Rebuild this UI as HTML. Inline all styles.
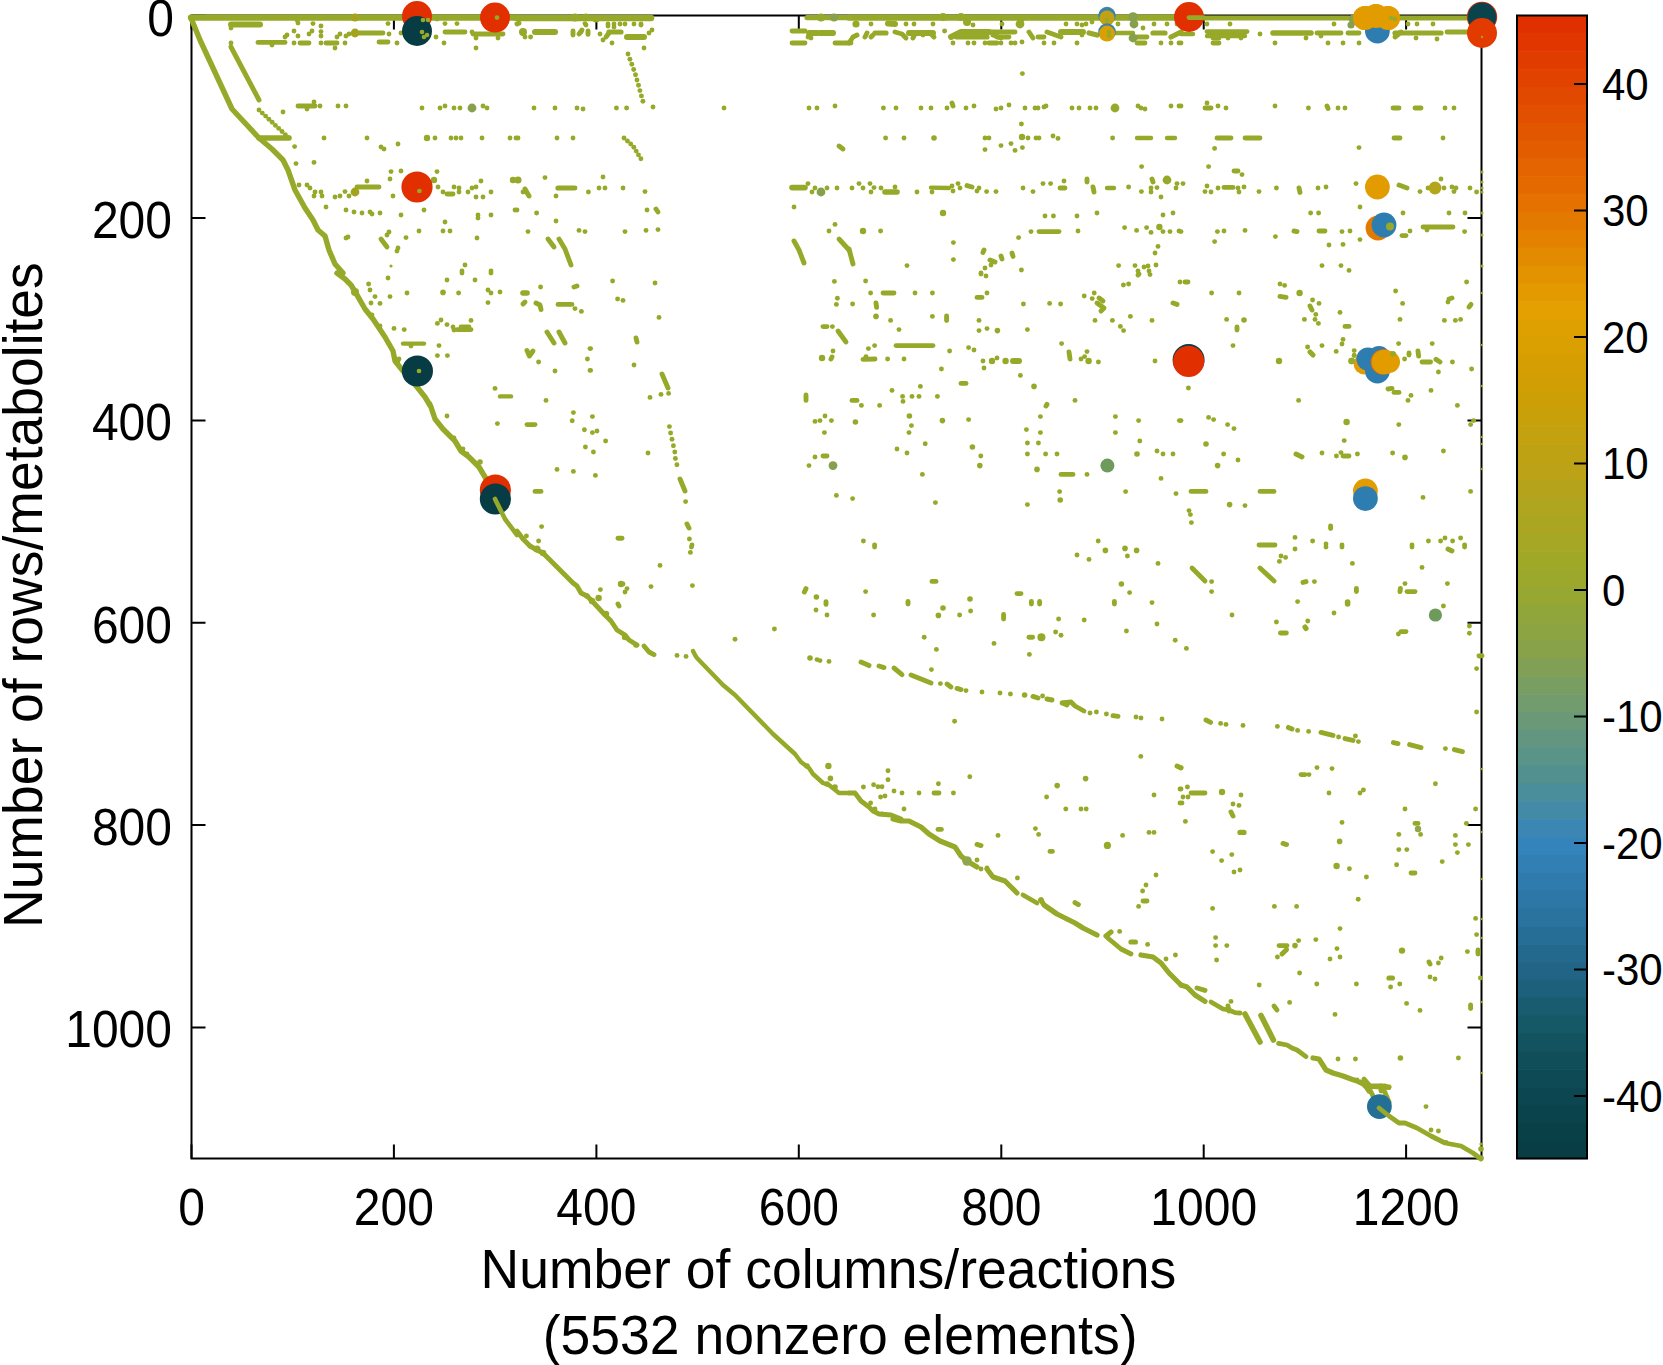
<!DOCTYPE html>
<html><head><meta charset="utf-8"><style>html,body{margin:0;padding:0;background:#fff;overflow:hidden}svg{display:block}</style></head>
<body><svg width="1663" height="1365" viewBox="0 0 1663 1365"><rect width="100%" height="100%" fill="#fff"/><defs><linearGradient id="cb" x1="0" y1="0" x2="0" y2="1"><stop offset="0.0000" stop-color="#e02d00"/><stop offset="0.0597" stop-color="#e24400"/><stop offset="0.1150" stop-color="#e35c00"/><stop offset="0.1704" stop-color="#e47400"/><stop offset="0.2257" stop-color="#e39300"/><stop offset="0.2588" stop-color="#e3a000"/><stop offset="0.2810" stop-color="#dc9f00"/><stop offset="0.3363" stop-color="#cc9f06"/><stop offset="0.3916" stop-color="#bda216"/><stop offset="0.4469" stop-color="#aaa622"/><stop offset="0.5022" stop-color="#98a92e"/><stop offset="0.5575" stop-color="#87a24c"/><stop offset="0.6128" stop-color="#6c9a76"/><stop offset="0.6681" stop-color="#508f92"/><stop offset="0.7235" stop-color="#3584bc"/><stop offset="0.7788" stop-color="#2b76a4"/><stop offset="0.8341" stop-color="#216586"/><stop offset="0.8894" stop-color="#135662"/><stop offset="0.9447" stop-color="#0c4650"/><stop offset="1.0000" stop-color="#073b41"/></linearGradient></defs><g stroke="#000" stroke-width="2" fill="none"><rect x="191.5" y="15.5" width="1290.0" height="1143.0"/><path d="M191.5 1158.5 v-14 M191.5 15.5 v14"/><path d="M393.9 1158.5 v-14 M393.9 15.5 v14"/><path d="M596.4 1158.5 v-14 M596.4 15.5 v14"/><path d="M798.8 1158.5 v-14 M798.8 15.5 v14"/><path d="M1001.3 1158.5 v-14 M1001.3 15.5 v14"/><path d="M1203.7 1158.5 v-14 M1203.7 15.5 v14"/><path d="M1406.1 1158.5 v-14 M1406.1 15.5 v14"/><path d="M191.5 15.8 h14 M1481.5 15.8 h-14"/><path d="M191.5 218.1 h14 M1481.5 218.1 h-14"/><path d="M191.5 420.4 h14 M1481.5 420.4 h-14"/><path d="M191.5 622.8 h14 M1481.5 622.8 h-14"/><path d="M191.5 825.1 h14 M1481.5 825.1 h-14"/><path d="M191.5 1027.4 h14 M1481.5 1027.4 h-14"/></g><path d="M191.0 17.6 L517.0 17.6" fill="none" stroke="#97a928" stroke-width="6.40" stroke-linecap="round" stroke-linejoin="round"/><path d="M191.0 18.0 L200.0 40.0 L232.0 109.0 L259.0 138.0 L272.0 149.0 L283.0 160.0 L288.0 170.0 L295.0 190.0 L305.0 208.0 L313.0 220.0 L318.0 230.0 L325.0 236.0 L329.0 250.0 L335.0 264.0 L343.0 273.0" fill="none" stroke="#97a928" stroke-width="5.40" stroke-linecap="round" stroke-linejoin="round"/><path d="M231.0 24.4 L260.0 24.4" fill="none" stroke="#97a928" stroke-width="6.00" stroke-linecap="round" stroke-linejoin="round"/><path d="M258.0 42.4 L285.0 42.4" fill="none" stroke="#97a928" stroke-width="4.90" stroke-linecap="round" stroke-linejoin="round"/><path d="M231.0 47.0 L259.0 100.0" fill="none" stroke="#97a928" stroke-width="4.90" stroke-linecap="round" stroke-linejoin="round"/><path d="M259.0 138.0 L289.0 138.0" fill="none" stroke="#97a928" stroke-width="5.60" stroke-linecap="round" stroke-linejoin="round"/><path d="M298.0 106.0 L315.0 106.0" fill="none" stroke="#97a928" stroke-width="4.90" stroke-linecap="round" stroke-linejoin="round"/><path d="M359.0 33.0 L383.0 33.0" fill="none" stroke="#97a928" stroke-width="4.90" stroke-linecap="round" stroke-linejoin="round"/><path d="M445.0 32.0 L465.0 32.0" fill="none" stroke="#97a928" stroke-width="4.90" stroke-linecap="round" stroke-linejoin="round"/><path d="M473.0 34.0 L503.0 34.0" fill="none" stroke="#97a928" stroke-width="4.90" stroke-linecap="round" stroke-linejoin="round"/><path d="M300.0 43.0 L309.0 43.0" fill="none" stroke="#97a928" stroke-width="4.90" stroke-linecap="round" stroke-linejoin="round"/><path d="M326.0 43.0 L337.0 43.0" fill="none" stroke="#97a928" stroke-width="4.90" stroke-linecap="round" stroke-linejoin="round"/><path d="M379.0 42.0 L388.0 42.0" fill="none" stroke="#97a928" stroke-width="4.90" stroke-linecap="round" stroke-linejoin="round"/><path d="M357.0 187.0 L379.0 187.0" fill="none" stroke="#97a928" stroke-width="4.90" stroke-linecap="round" stroke-linejoin="round"/><path d="M447.0 194.0 L453.0 194.0" fill="none" stroke="#97a928" stroke-width="4.90" stroke-linecap="round" stroke-linejoin="round"/><path d="M381.0 239.0 L387.0 247.0" fill="none" stroke="#97a928" stroke-width="4.90" stroke-linecap="round" stroke-linejoin="round"/><path d="M337.0 273.0 L345.0 279.0 L351.0 285.0 L357.0 295.0 L365.0 309.0 L369.0 314.0 L373.0 319.0 L385.0 337.0 L393.0 351.0 L395.0 361.0 L403.0 371.0 L417.0 387.0 L425.0 397.0 L431.0 407.0 L435.0 419.0 L443.0 429.0 L455.0 441.0 L461.0 451.0 L469.0 457.0 L479.0 467.0 L485.0 477.0 L491.0 489.0" fill="none" stroke="#97a928" stroke-width="5.40" stroke-linecap="round" stroke-linejoin="round"/><path d="M457.0 329.6 L471.0 329.6" fill="none" stroke="#97a928" stroke-width="4.80" stroke-linecap="round" stroke-linejoin="round"/><path d="M403.0 343.6 L424.0 343.6" fill="none" stroke="#97a928" stroke-width="4.40" stroke-linecap="round" stroke-linejoin="round"/><path d="M500.0 396.4 L511.0 396.4" fill="none" stroke="#97a928" stroke-width="4.40" stroke-linecap="round" stroke-linejoin="round"/><path d="M461.0 327.0 L469.0 327.0" fill="none" stroke="#97a928" stroke-width="4.90" stroke-linecap="round" stroke-linejoin="round"/><path d="M517.0 18.0 L651.0 18.0" fill="none" stroke="#97a928" stroke-width="6.60" stroke-linecap="round" stroke-linejoin="round"/><path d="M807.0 17.6 L849.0 17.6" fill="none" stroke="#97a928" stroke-width="5.20" stroke-linecap="round" stroke-linejoin="round"/><path d="M535.0 32.0 L555.0 32.0" fill="none" stroke="#97a928" stroke-width="6.00" stroke-linecap="round" stroke-linejoin="round"/><path d="M573.0 31.0 L573.0 35.0" fill="none" stroke="#97a928" stroke-width="4.90" stroke-linecap="round" stroke-linejoin="round"/><path d="M588.0 31.0 L588.0 34.4" fill="none" stroke="#97a928" stroke-width="4.90" stroke-linecap="round" stroke-linejoin="round"/><path d="M609.0 32.0 L621.0 32.0" fill="none" stroke="#97a928" stroke-width="5.20" stroke-linecap="round" stroke-linejoin="round"/><path d="M627.0 37.0 L644.0 37.0" fill="none" stroke="#97a928" stroke-width="6.00" stroke-linecap="round" stroke-linejoin="round"/><path d="M792.0 31.0 L805.0 31.0" fill="none" stroke="#97a928" stroke-width="4.80" stroke-linecap="round" stroke-linejoin="round"/><path d="M792.0 43.0 L805.0 43.0" fill="none" stroke="#97a928" stroke-width="4.80" stroke-linecap="round" stroke-linejoin="round"/><path d="M809.0 33.0 L817.0 33.0" fill="none" stroke="#97a928" stroke-width="6.00" stroke-linecap="round" stroke-linejoin="round"/><path d="M820.0 33.0 L833.0 33.0" fill="none" stroke="#97a928" stroke-width="6.00" stroke-linecap="round" stroke-linejoin="round"/><path d="M835.0 43.0 L849.0 43.0" fill="none" stroke="#97a928" stroke-width="4.90" stroke-linecap="round" stroke-linejoin="round"/><path d="M839.0 146.0 L843.0 149.0" fill="none" stroke="#97a928" stroke-width="4.90" stroke-linecap="round" stroke-linejoin="round"/><path d="M558.0 188.0 L573.0 188.0" fill="none" stroke="#97a928" stroke-width="5.20" stroke-linecap="round" stroke-linejoin="round"/><path d="M792.0 187.6 L805.0 187.6" fill="none" stroke="#97a928" stroke-width="5.60" stroke-linecap="round" stroke-linejoin="round"/><path d="M656.0 209.0 L658.0 212.0" fill="none" stroke="#97a928" stroke-width="4.90" stroke-linecap="round" stroke-linejoin="round"/><path d="M548.0 239.0 L554.0 247.0" fill="none" stroke="#97a928" stroke-width="4.90" stroke-linecap="round" stroke-linejoin="round"/><path d="M559.0 239.0 L565.0 249.0 L571.0 265.0" fill="none" stroke="#97a928" stroke-width="4.90" stroke-linecap="round" stroke-linejoin="round"/><path d="M794.0 241.0 L799.0 250.0 L804.0 263.0" fill="none" stroke="#97a928" stroke-width="4.90" stroke-linecap="round" stroke-linejoin="round"/><path d="M839.0 239.0 L849.0 250.0" fill="none" stroke="#97a928" stroke-width="4.90" stroke-linecap="round" stroke-linejoin="round"/><path d="M525.0 189.0 L529.0 196.0" fill="none" stroke="#97a928" stroke-width="4.90" stroke-linecap="round" stroke-linejoin="round"/><path d="M606.0 37.0 L609.0 33.0" fill="none" stroke="#97a928" stroke-width="4.90" stroke-linecap="round" stroke-linejoin="round"/><path d="M579.0 34.0 L582.0 30.0" fill="none" stroke="#97a928" stroke-width="4.90" stroke-linecap="round" stroke-linejoin="round"/><path d="M517.0 24.0 L519.0 23.0" fill="none" stroke="#97a928" stroke-width="4.90" stroke-linecap="round" stroke-linejoin="round"/><path d="M574.0 287.0 L577.0 286.0" fill="none" stroke="#97a928" stroke-width="4.90" stroke-linecap="round" stroke-linejoin="round"/><path d="M523.0 293.0 L527.0 293.0" fill="none" stroke="#97a928" stroke-width="5.60" stroke-linecap="round" stroke-linejoin="round"/><path d="M523.0 304.0 L525.0 302.0" fill="none" stroke="#97a928" stroke-width="4.90" stroke-linecap="round" stroke-linejoin="round"/><path d="M536.0 303.0 L540.0 305.0 L541.0 309.6" fill="none" stroke="#97a928" stroke-width="4.90" stroke-linecap="round" stroke-linejoin="round"/><path d="M558.0 304.4 L572.0 304.4" fill="none" stroke="#97a928" stroke-width="4.80" stroke-linecap="round" stroke-linejoin="round"/><path d="M823.0 326.6 L827.0 326.6" fill="none" stroke="#97a928" stroke-width="4.90" stroke-linecap="round" stroke-linejoin="round"/><path d="M838.0 331.0 L846.0 342.0" fill="none" stroke="#97a928" stroke-width="4.90" stroke-linecap="round" stroke-linejoin="round"/><path d="M547.0 332.0 L554.0 343.0" fill="none" stroke="#97a928" stroke-width="4.90" stroke-linecap="round" stroke-linejoin="round"/><path d="M559.0 332.0 L565.0 343.0" fill="none" stroke="#97a928" stroke-width="4.90" stroke-linecap="round" stroke-linejoin="round"/><path d="M636.0 338.0 L637.0 342.0" fill="none" stroke="#97a928" stroke-width="4.90" stroke-linecap="round" stroke-linejoin="round"/><path d="M527.0 350.6 L529.4 356.0 L533.0 351.0" fill="none" stroke="#97a928" stroke-width="4.90" stroke-linecap="round" stroke-linejoin="round"/><path d="M832.0 357.0 L831.0 359.0" fill="none" stroke="#97a928" stroke-width="4.90" stroke-linecap="round" stroke-linejoin="round"/><path d="M662.0 374.0 L668.0 388.0" fill="none" stroke="#97a928" stroke-width="4.90" stroke-linecap="round" stroke-linejoin="round"/><path d="M806.0 395.0 L806.0 400.4" fill="none" stroke="#97a928" stroke-width="4.90" stroke-linecap="round" stroke-linejoin="round"/><path d="M527.0 424.6 L535.0 424.6" fill="none" stroke="#97a928" stroke-width="4.90" stroke-linecap="round" stroke-linejoin="round"/><path d="M680.0 479.0 L685.0 491.0" fill="none" stroke="#97a928" stroke-width="4.90" stroke-linecap="round" stroke-linejoin="round"/><path d="M823.0 456.0 L827.0 456.0" fill="none" stroke="#97a928" stroke-width="4.90" stroke-linecap="round" stroke-linejoin="round"/><path d="M535.0 491.4 L541.0 491.4" fill="none" stroke="#97a928" stroke-width="4.90" stroke-linecap="round" stroke-linejoin="round"/><path d="M687.0 524.0 L689.0 528.0" fill="none" stroke="#97a928" stroke-width="4.90" stroke-linecap="round" stroke-linejoin="round"/><path d="M618.0 538.2 L622.0 538.2" fill="none" stroke="#97a928" stroke-width="4.90" stroke-linecap="round" stroke-linejoin="round"/><path d="M517.0 531.0 L523.0 539.0 L530.0 546.0" fill="none" stroke="#97a928" stroke-width="4.90" stroke-linecap="round" stroke-linejoin="round"/><path d="M590.0 348.6 L590.6 348.6" fill="none" stroke="#97a928" stroke-width="4.90" stroke-linecap="round" stroke-linejoin="round"/><path d="M590.0 370.4 L590.6 370.4" fill="none" stroke="#97a928" stroke-width="4.90" stroke-linecap="round" stroke-linejoin="round"/><path d="M530.0 546.0 L537.0 550.0 L543.0 553.0 L557.0 567.0 L573.0 583.0 L577.0 586.0 L581.0 593.0 L587.0 596.0 L593.0 602.0 L605.0 615.0 L611.0 621.0 L617.0 630.0 L625.0 635.0 L629.0 640.0 L637.0 645.0" fill="none" stroke="#97a928" stroke-width="4.90" stroke-linecap="round" stroke-linejoin="round"/><path d="M644.0 646.0 L649.0 652.0 L654.0 654.6" fill="none" stroke="#97a928" stroke-width="4.90" stroke-linecap="round" stroke-linejoin="round"/><path d="M693.0 651.0 L695.0 655.0 L697.0 658.0 L723.0 685.0 L735.0 695.0 L773.0 734.0 L795.0 754.0 L801.0 762.0 L809.0 768.0 L813.0 774.0 L823.0 783.0 L829.0 785.0 L839.0 793.0 L849.0 793.0" fill="none" stroke="#97a928" stroke-width="4.40" stroke-linecap="round" stroke-linejoin="round"/><path d="M619.0 606.0 L618.0 604.0" fill="none" stroke="#97a928" stroke-width="4.90" stroke-linecap="round" stroke-linejoin="round"/><path d="M806.0 588.6 L804.4 592.0" fill="none" stroke="#97a928" stroke-width="4.90" stroke-linecap="round" stroke-linejoin="round"/><path d="M826.0 601.6 L826.0 604.4" fill="none" stroke="#97a928" stroke-width="4.90" stroke-linecap="round" stroke-linejoin="round"/><path d="M621.0 584.0 L623.0 584.0" fill="none" stroke="#97a928" stroke-width="4.90" stroke-linecap="round" stroke-linejoin="round"/><path d="M849.0 17.6 L1181.0 17.6" fill="none" stroke="#97a928" stroke-width="6.40" stroke-linecap="round" stroke-linejoin="round"/><path d="M888.0 23.4 L895.0 24.0" fill="none" stroke="#97a928" stroke-width="6.00" stroke-linecap="round" stroke-linejoin="round"/><path d="M849.0 43.0 L853.0 37.0 L857.0 35.0" fill="none" stroke="#97a928" stroke-width="4.90" stroke-linecap="round" stroke-linejoin="round"/><path d="M867.0 33.0 L865.0 37.0" fill="none" stroke="#97a928" stroke-width="4.90" stroke-linecap="round" stroke-linejoin="round"/><path d="M871.0 37.0 L873.0 35.0" fill="none" stroke="#97a928" stroke-width="4.90" stroke-linecap="round" stroke-linejoin="round"/><path d="M875.0 33.0 L886.0 33.0" fill="none" stroke="#97a928" stroke-width="5.20" stroke-linecap="round" stroke-linejoin="round"/><path d="M895.0 32.0 L902.0 34.0 L906.0 38.0" fill="none" stroke="#97a928" stroke-width="4.90" stroke-linecap="round" stroke-linejoin="round"/><path d="M909.0 33.0 L933.0 33.0" fill="none" stroke="#97a928" stroke-width="6.00" stroke-linecap="round" stroke-linejoin="round"/><path d="M913.0 38.0 L915.0 34.0" fill="none" stroke="#97a928" stroke-width="4.90" stroke-linecap="round" stroke-linejoin="round"/><path d="M934.0 37.0 L931.0 34.0" fill="none" stroke="#97a928" stroke-width="4.90" stroke-linecap="round" stroke-linejoin="round"/><path d="M951.0 37.0 L961.0 32.0 L989.0 32.0" fill="none" stroke="#97a928" stroke-width="6.00" stroke-linecap="round" stroke-linejoin="round"/><path d="M957.0 37.0 L987.0 37.0" fill="none" stroke="#97a928" stroke-width="5.20" stroke-linecap="round" stroke-linejoin="round"/><path d="M991.0 32.0 L1015.0 32.0" fill="none" stroke="#97a928" stroke-width="4.90" stroke-linecap="round" stroke-linejoin="round"/><path d="M997.0 37.0 L1009.0 37.0" fill="none" stroke="#97a928" stroke-width="4.90" stroke-linecap="round" stroke-linejoin="round"/><path d="M993.0 35.0 L1001.0 38.0" fill="none" stroke="#97a928" stroke-width="4.90" stroke-linecap="round" stroke-linejoin="round"/><path d="M1029.0 32.0 L1033.0 38.0" fill="none" stroke="#97a928" stroke-width="4.90" stroke-linecap="round" stroke-linejoin="round"/><path d="M1038.0 37.0 L1044.0 37.0" fill="none" stroke="#97a928" stroke-width="4.90" stroke-linecap="round" stroke-linejoin="round"/><path d="M1047.0 32.0 L1061.0 37.0" fill="none" stroke="#97a928" stroke-width="4.90" stroke-linecap="round" stroke-linejoin="round"/><path d="M1061.0 32.0 L1083.0 32.0" fill="none" stroke="#97a928" stroke-width="6.00" stroke-linecap="round" stroke-linejoin="round"/><path d="M1089.0 33.0 L1097.0 35.0" fill="none" stroke="#97a928" stroke-width="5.20" stroke-linecap="round" stroke-linejoin="round"/><path d="M1115.0 33.0 L1133.0 33.0" fill="none" stroke="#97a928" stroke-width="4.40" stroke-linecap="round" stroke-linejoin="round"/><path d="M1137.0 37.0 L1147.0 37.0" fill="none" stroke="#97a928" stroke-width="4.80" stroke-linecap="round" stroke-linejoin="round"/><path d="M1153.0 33.0 L1165.0 33.0" fill="none" stroke="#97a928" stroke-width="5.20" stroke-linecap="round" stroke-linejoin="round"/><path d="M1171.0 37.0 L1181.0 32.0" fill="none" stroke="#97a928" stroke-width="5.20" stroke-linecap="round" stroke-linejoin="round"/><path d="M989.0 43.0 L997.0 43.0" fill="none" stroke="#97a928" stroke-width="4.90" stroke-linecap="round" stroke-linejoin="round"/><path d="M1137.0 43.0 L1145.0 43.0" fill="none" stroke="#97a928" stroke-width="4.90" stroke-linecap="round" stroke-linejoin="round"/><path d="M952.0 103.0 L953.0 106.0" fill="none" stroke="#97a928" stroke-width="4.90" stroke-linecap="round" stroke-linejoin="round"/><path d="M1137.0 138.0 L1151.0 138.0" fill="none" stroke="#97a928" stroke-width="4.40" stroke-linecap="round" stroke-linejoin="round"/><path d="M1167.0 138.0 L1175.0 138.0" fill="none" stroke="#97a928" stroke-width="4.40" stroke-linecap="round" stroke-linejoin="round"/><path d="M885.0 192.0 L897.0 192.0" fill="none" stroke="#97a928" stroke-width="5.60" stroke-linecap="round" stroke-linejoin="round"/><path d="M931.0 187.6 L949.0 188.0" fill="none" stroke="#97a928" stroke-width="4.40" stroke-linecap="round" stroke-linejoin="round"/><path d="M967.0 185.6 L972.0 187.0" fill="none" stroke="#97a928" stroke-width="4.90" stroke-linecap="round" stroke-linejoin="round"/><path d="M1060.0 188.0 L1065.0 188.0" fill="none" stroke="#97a928" stroke-width="4.90" stroke-linecap="round" stroke-linejoin="round"/><path d="M1087.0 179.0 L1087.0 182.0" fill="none" stroke="#97a928" stroke-width="4.90" stroke-linecap="round" stroke-linejoin="round"/><path d="M1093.0 187.0 L1094.0 192.0" fill="none" stroke="#97a928" stroke-width="4.90" stroke-linecap="round" stroke-linejoin="round"/><path d="M1107.0 188.0 L1114.0 188.0" fill="none" stroke="#97a928" stroke-width="4.40" stroke-linecap="round" stroke-linejoin="round"/><path d="M1152.0 179.0 L1153.0 182.0" fill="none" stroke="#97a928" stroke-width="4.90" stroke-linecap="round" stroke-linejoin="round"/><path d="M1039.0 231.6 L1059.0 231.6" fill="none" stroke="#97a928" stroke-width="4.80" stroke-linecap="round" stroke-linejoin="round"/><path d="M849.0 249.0 L853.0 264.0" fill="none" stroke="#97a928" stroke-width="4.90" stroke-linecap="round" stroke-linejoin="round"/><path d="M984.0 250.0 L983.0 252.4" fill="none" stroke="#97a928" stroke-width="4.90" stroke-linecap="round" stroke-linejoin="round"/><path d="M1001.0 256.0 L1002.0 259.0" fill="none" stroke="#97a928" stroke-width="4.90" stroke-linecap="round" stroke-linejoin="round"/><path d="M1012.0 253.0 L1013.0 256.4" fill="none" stroke="#97a928" stroke-width="4.90" stroke-linecap="round" stroke-linejoin="round"/><path d="M990.0 260.0 L995.0 262.0" fill="none" stroke="#97a928" stroke-width="4.90" stroke-linecap="round" stroke-linejoin="round"/><path d="M883.0 293.0 L894.0 293.0" fill="none" stroke="#97a928" stroke-width="4.80" stroke-linecap="round" stroke-linejoin="round"/><path d="M977.0 297.4 L982.0 297.4" fill="none" stroke="#97a928" stroke-width="4.90" stroke-linecap="round" stroke-linejoin="round"/><path d="M876.0 303.0 L876.6 307.4" fill="none" stroke="#97a928" stroke-width="4.90" stroke-linecap="round" stroke-linejoin="round"/><path d="M1099.0 298.0 L1103.0 301.0" fill="none" stroke="#97a928" stroke-width="4.90" stroke-linecap="round" stroke-linejoin="round"/><path d="M1097.0 303.0 L1104.0 308.0 L1101.0 311.0" fill="none" stroke="#97a928" stroke-width="4.90" stroke-linecap="round" stroke-linejoin="round"/><path d="M1173.0 303.0 L1177.0 304.4" fill="none" stroke="#97a928" stroke-width="4.90" stroke-linecap="round" stroke-linejoin="round"/><path d="M946.6 316.0 L946.6 320.6" fill="none" stroke="#97a928" stroke-width="4.90" stroke-linecap="round" stroke-linejoin="round"/><path d="M896.0 345.6 L933.0 345.6" fill="none" stroke="#97a928" stroke-width="4.80" stroke-linecap="round" stroke-linejoin="round"/><path d="M1069.0 352.0 L1070.0 359.0" fill="none" stroke="#97a928" stroke-width="4.90" stroke-linecap="round" stroke-linejoin="round"/><path d="M863.0 359.4 L875.0 359.0" fill="none" stroke="#97a928" stroke-width="4.90" stroke-linecap="round" stroke-linejoin="round"/><path d="M1013.0 361.0 L1019.0 361.0" fill="none" stroke="#97a928" stroke-width="6.00" stroke-linecap="round" stroke-linejoin="round"/><path d="M961.0 383.4 L966.0 383.4" fill="none" stroke="#97a928" stroke-width="4.90" stroke-linecap="round" stroke-linejoin="round"/><path d="M852.0 400.4 L857.0 400.4" fill="none" stroke="#97a928" stroke-width="4.90" stroke-linecap="round" stroke-linejoin="round"/><path d="M1047.0 404.4 L1046.0 406.0" fill="none" stroke="#97a928" stroke-width="4.90" stroke-linecap="round" stroke-linejoin="round"/><path d="M1061.0 474.4 L1073.0 474.4" fill="none" stroke="#97a928" stroke-width="4.80" stroke-linecap="round" stroke-linejoin="round"/><path d="M1138.0 275.0 L1139.0 274.0" fill="none" stroke="#97a928" stroke-width="4.90" stroke-linecap="round" stroke-linejoin="round"/><path d="M861.0 662.0 L869.0 665.6" fill="none" stroke="#97a928" stroke-width="4.90" stroke-linecap="round" stroke-linejoin="round"/><path d="M879.0 666.0 L884.0 667.6" fill="none" stroke="#97a928" stroke-width="4.90" stroke-linecap="round" stroke-linejoin="round"/><path d="M894.0 668.0 L902.0 674.6" fill="none" stroke="#97a928" stroke-width="4.90" stroke-linecap="round" stroke-linejoin="round"/><path d="M911.0 675.0 L931.0 683.0" fill="none" stroke="#97a928" stroke-width="4.80" stroke-linecap="round" stroke-linejoin="round"/><path d="M947.0 684.0 L951.0 687.0" fill="none" stroke="#97a928" stroke-width="4.90" stroke-linecap="round" stroke-linejoin="round"/><path d="M957.0 688.4 L961.0 689.6" fill="none" stroke="#97a928" stroke-width="4.90" stroke-linecap="round" stroke-linejoin="round"/><path d="M1033.0 696.4 L1038.0 698.0" fill="none" stroke="#97a928" stroke-width="4.90" stroke-linecap="round" stroke-linejoin="round"/><path d="M1047.0 699.0 L1052.0 700.0" fill="none" stroke="#97a928" stroke-width="4.90" stroke-linecap="round" stroke-linejoin="round"/><path d="M1062.0 703.0 L1071.0 702.0 L1075.0 706.0 L1084.0 711.0" fill="none" stroke="#97a928" stroke-width="4.80" stroke-linecap="round" stroke-linejoin="round"/><path d="M1063.0 703.0 L1067.0 705.0" fill="none" stroke="#97a928" stroke-width="4.90" stroke-linecap="round" stroke-linejoin="round"/><path d="M1113.0 715.6 L1118.0 716.4" fill="none" stroke="#97a928" stroke-width="4.90" stroke-linecap="round" stroke-linejoin="round"/><path d="M932.0 581.4 L936.0 581.4" fill="none" stroke="#97a928" stroke-width="4.90" stroke-linecap="round" stroke-linejoin="round"/><path d="M1017.0 593.6 L1021.0 593.6" fill="none" stroke="#97a928" stroke-width="4.90" stroke-linecap="round" stroke-linejoin="round"/><path d="M908.0 601.4 L908.0 604.0" fill="none" stroke="#97a928" stroke-width="4.90" stroke-linecap="round" stroke-linejoin="round"/><path d="M1031.4 601.4 L1031.4 604.0" fill="none" stroke="#97a928" stroke-width="4.90" stroke-linecap="round" stroke-linejoin="round"/><path d="M1039.6 601.4 L1039.6 604.0" fill="none" stroke="#97a928" stroke-width="4.90" stroke-linecap="round" stroke-linejoin="round"/><path d="M1114.4 601.4 L1114.4 604.0" fill="none" stroke="#97a928" stroke-width="4.90" stroke-linecap="round" stroke-linejoin="round"/><path d="M1003.6 614.4 L1003.6 619.0" fill="none" stroke="#97a928" stroke-width="4.90" stroke-linecap="round" stroke-linejoin="round"/><path d="M1029.0 637.2 L1032.6 637.2" fill="none" stroke="#97a928" stroke-width="4.90" stroke-linecap="round" stroke-linejoin="round"/><path d="M1177.0 766.0 L1181.0 768.0" fill="none" stroke="#97a928" stroke-width="4.90" stroke-linecap="round" stroke-linejoin="round"/><path d="M934.0 793.0 L939.0 793.0" fill="none" stroke="#97a928" stroke-width="4.90" stroke-linecap="round" stroke-linejoin="round"/><path d="M849.0 793.0 L855.0 793.0 L861.0 801.0 L869.0 807.0 L873.0 811.0 L879.0 814.0 L891.0 815.0 L901.0 819.0" fill="none" stroke="#97a928" stroke-width="4.80" stroke-linecap="round" stroke-linejoin="round"/><path d="M893.0 819.0 L901.0 821.0 L909.0 821.0 L921.0 827.0 L929.0 834.0 L940.0 841.0 L945.0 843.0 L955.0 847.0 L961.0 856.0 L967.0 861.0 L977.0 867.0" fill="none" stroke="#97a928" stroke-width="5.20" stroke-linecap="round" stroke-linejoin="round"/><path d="M987.0 869.0 L993.0 877.0 L1005.0 881.0 L1017.0 893.0" fill="none" stroke="#97a928" stroke-width="5.20" stroke-linecap="round" stroke-linejoin="round"/><path d="M1023.0 895.0 L1037.0 903.0" fill="none" stroke="#97a928" stroke-width="4.80" stroke-linecap="round" stroke-linejoin="round"/><path d="M1041.0 900.0 L1044.0 905.0 L1057.0 914.0 L1067.0 919.0 L1075.0 923.0 L1083.0 928.0 L1097.0 935.0" fill="none" stroke="#97a928" stroke-width="5.20" stroke-linecap="round" stroke-linejoin="round"/><path d="M1106.0 936.0 L1111.0 932.0" fill="none" stroke="#97a928" stroke-width="5.20" stroke-linecap="round" stroke-linejoin="round"/><path d="M1107.0 937.0 L1109.0 939.0 L1121.0 949.0 L1131.0 954.0" fill="none" stroke="#97a928" stroke-width="4.80" stroke-linecap="round" stroke-linejoin="round"/><path d="M1141.0 955.0 L1153.0 957.0 L1161.0 963.0 L1169.0 973.0 L1181.0 985.0" fill="none" stroke="#97a928" stroke-width="5.20" stroke-linecap="round" stroke-linejoin="round"/><path d="M938.0 829.4 L941.4 829.4" fill="none" stroke="#97a928" stroke-width="4.90" stroke-linecap="round" stroke-linejoin="round"/><path d="M977.0 844.4 L981.0 845.6" fill="none" stroke="#97a928" stroke-width="4.90" stroke-linecap="round" stroke-linejoin="round"/><path d="M1050.0 851.4 L1052.4 851.4" fill="none" stroke="#97a928" stroke-width="4.90" stroke-linecap="round" stroke-linejoin="round"/><path d="M1143.0 901.0 L1147.0 901.0" fill="none" stroke="#97a928" stroke-width="4.90" stroke-linecap="round" stroke-linejoin="round"/><path d="M1075.0 902.6 L1078.4 904.6" fill="none" stroke="#97a928" stroke-width="4.90" stroke-linecap="round" stroke-linejoin="round"/><path d="M1131.0 942.0 L1135.4 942.0" fill="none" stroke="#97a928" stroke-width="5.20" stroke-linecap="round" stroke-linejoin="round"/><path d="M1189.0 18.0 L1349.0 18.0" fill="none" stroke="#97a928" stroke-width="5.20" stroke-linecap="round" stroke-linejoin="round"/><path d="M1391.0 18.0 L1467.0 18.0" fill="none" stroke="#97a928" stroke-width="5.20" stroke-linecap="round" stroke-linejoin="round"/><path d="M1207.0 31.6 L1247.0 31.6" fill="none" stroke="#97a928" stroke-width="4.80" stroke-linecap="round" stroke-linejoin="round"/><path d="M1207.0 36.0 L1245.0 36.0" fill="none" stroke="#97a928" stroke-width="4.40" stroke-linecap="round" stroke-linejoin="round"/><path d="M1181.0 34.0 L1193.0 34.0" fill="none" stroke="#97a928" stroke-width="4.40" stroke-linecap="round" stroke-linejoin="round"/><path d="M1273.0 33.0 L1311.0 33.0" fill="none" stroke="#97a928" stroke-width="5.60" stroke-linecap="round" stroke-linejoin="round"/><path d="M1317.0 33.0 L1341.0 33.0" fill="none" stroke="#97a928" stroke-width="4.90" stroke-linecap="round" stroke-linejoin="round"/><path d="M1348.0 33.0 L1359.0 33.0" fill="none" stroke="#97a928" stroke-width="4.90" stroke-linecap="round" stroke-linejoin="round"/><path d="M1395.0 33.0 L1441.0 33.0" fill="none" stroke="#97a928" stroke-width="5.20" stroke-linecap="round" stroke-linejoin="round"/><path d="M1395.0 37.0 L1401.0 32.0" fill="none" stroke="#97a928" stroke-width="4.90" stroke-linecap="round" stroke-linejoin="round"/><path d="M1447.0 32.0 L1467.0 32.0" fill="none" stroke="#97a928" stroke-width="4.90" stroke-linecap="round" stroke-linejoin="round"/><path d="M1213.0 43.0 L1219.0 43.0" fill="none" stroke="#97a928" stroke-width="4.90" stroke-linecap="round" stroke-linejoin="round"/><path d="M1213.0 38.0 L1219.0 38.0" fill="none" stroke="#97a928" stroke-width="4.90" stroke-linecap="round" stroke-linejoin="round"/><path d="M1205.0 108.0 L1211.0 108.0" fill="none" stroke="#97a928" stroke-width="4.90" stroke-linecap="round" stroke-linejoin="round"/><path d="M1393.0 108.0 L1399.0 108.0" fill="none" stroke="#97a928" stroke-width="4.90" stroke-linecap="round" stroke-linejoin="round"/><path d="M1415.0 108.0 L1421.0 108.0" fill="none" stroke="#97a928" stroke-width="4.90" stroke-linecap="round" stroke-linejoin="round"/><path d="M1217.0 138.0 L1231.0 138.0" fill="none" stroke="#97a928" stroke-width="4.90" stroke-linecap="round" stroke-linejoin="round"/><path d="M1245.0 138.0 L1260.0 138.0" fill="none" stroke="#97a928" stroke-width="4.80" stroke-linecap="round" stroke-linejoin="round"/><path d="M1394.0 138.0 L1400.0 138.0" fill="none" stroke="#97a928" stroke-width="4.90" stroke-linecap="round" stroke-linejoin="round"/><path d="M1234.0 171.0 L1238.0 171.0" fill="none" stroke="#97a928" stroke-width="4.90" stroke-linecap="round" stroke-linejoin="round"/><path d="M1224.0 187.4 L1233.0 187.4" fill="none" stroke="#97a928" stroke-width="4.90" stroke-linecap="round" stroke-linejoin="round"/><path d="M1299.0 188.0 L1300.0 192.4" fill="none" stroke="#97a928" stroke-width="4.90" stroke-linecap="round" stroke-linejoin="round"/><path d="M1399.0 185.0 L1407.0 188.0" fill="none" stroke="#97a928" stroke-width="4.90" stroke-linecap="round" stroke-linejoin="round"/><path d="M1319.0 231.0 L1325.0 231.0" fill="none" stroke="#97a928" stroke-width="4.90" stroke-linecap="round" stroke-linejoin="round"/><path d="M1423.0 227.0 L1453.0 227.0" fill="none" stroke="#97a928" stroke-width="4.80" stroke-linecap="round" stroke-linejoin="round"/><path d="M1402.0 235.6 L1406.0 235.6" fill="none" stroke="#97a928" stroke-width="4.90" stroke-linecap="round" stroke-linejoin="round"/><path d="M1327.0 106.0 L1328.0 108.4" fill="none" stroke="#97a928" stroke-width="4.90" stroke-linecap="round" stroke-linejoin="round"/><path d="M1294.0 231.0 L1297.0 231.6" fill="none" stroke="#97a928" stroke-width="4.90" stroke-linecap="round" stroke-linejoin="round"/><path d="M1185.0 282.0 L1188.0 282.0" fill="none" stroke="#97a928" stroke-width="4.90" stroke-linecap="round" stroke-linejoin="round"/><path d="M1280.0 296.4 L1286.0 297.4" fill="none" stroke="#97a928" stroke-width="4.90" stroke-linecap="round" stroke-linejoin="round"/><path d="M1310.0 306.0 L1312.0 310.0" fill="none" stroke="#97a928" stroke-width="4.90" stroke-linecap="round" stroke-linejoin="round"/><path d="M1449.0 299.0 L1452.0 298.0" fill="none" stroke="#97a928" stroke-width="4.90" stroke-linecap="round" stroke-linejoin="round"/><path d="M1469.0 307.0 L1471.0 304.4" fill="none" stroke="#97a928" stroke-width="4.90" stroke-linecap="round" stroke-linejoin="round"/><path d="M1237.0 327.0 L1237.0 330.0" fill="none" stroke="#97a928" stroke-width="4.90" stroke-linecap="round" stroke-linejoin="round"/><path d="M1345.0 326.4 L1349.0 326.4" fill="none" stroke="#97a928" stroke-width="4.90" stroke-linecap="round" stroke-linejoin="round"/><path d="M1310.0 352.0 L1313.0 355.0" fill="none" stroke="#97a928" stroke-width="5.20" stroke-linecap="round" stroke-linejoin="round"/><path d="M1409.0 353.0 L1409.0 355.0" fill="none" stroke="#97a928" stroke-width="4.90" stroke-linecap="round" stroke-linejoin="round"/><path d="M1418.0 351.0 L1418.6 356.0" fill="none" stroke="#97a928" stroke-width="4.90" stroke-linecap="round" stroke-linejoin="round"/><path d="M1422.0 362.0 L1430.6 362.0" fill="none" stroke="#97a928" stroke-width="4.80" stroke-linecap="round" stroke-linejoin="round"/><path d="M1436.0 359.4 L1440.0 362.0" fill="none" stroke="#97a928" stroke-width="4.90" stroke-linecap="round" stroke-linejoin="round"/><path d="M1388.0 389.0 L1392.0 388.4" fill="none" stroke="#97a928" stroke-width="4.90" stroke-linecap="round" stroke-linejoin="round"/><path d="M1394.0 392.4 L1399.0 392.4" fill="none" stroke="#97a928" stroke-width="4.90" stroke-linecap="round" stroke-linejoin="round"/><path d="M1296.0 454.0 L1302.0 457.0" fill="none" stroke="#97a928" stroke-width="4.90" stroke-linecap="round" stroke-linejoin="round"/><path d="M1343.0 456.0 L1349.0 456.0" fill="none" stroke="#97a928" stroke-width="4.90" stroke-linecap="round" stroke-linejoin="round"/><path d="M1191.0 491.4 L1206.0 491.4" fill="none" stroke="#97a928" stroke-width="4.80" stroke-linecap="round" stroke-linejoin="round"/><path d="M1260.0 491.4 L1274.0 491.4" fill="none" stroke="#97a928" stroke-width="4.80" stroke-linecap="round" stroke-linejoin="round"/><path d="M1330.6 526.0 L1330.6 528.6" fill="none" stroke="#97a928" stroke-width="4.90" stroke-linecap="round" stroke-linejoin="round"/><path d="M1259.0 545.0 L1275.0 545.0" fill="none" stroke="#97a928" stroke-width="4.90" stroke-linecap="round" stroke-linejoin="round"/><path d="M1192.0 568.0 L1205.0 581.0" fill="none" stroke="#97a928" stroke-width="4.80" stroke-linecap="round" stroke-linejoin="round"/><path d="M1260.0 568.0 L1274.0 581.0" fill="none" stroke="#97a928" stroke-width="4.80" stroke-linecap="round" stroke-linejoin="round"/><path d="M1448.0 549.0 L1452.0 551.0" fill="none" stroke="#97a928" stroke-width="4.90" stroke-linecap="round" stroke-linejoin="round"/><path d="M1303.0 582.4 L1306.0 581.6" fill="none" stroke="#97a928" stroke-width="4.90" stroke-linecap="round" stroke-linejoin="round"/><path d="M1356.4 588.4 L1356.4 591.6" fill="none" stroke="#97a928" stroke-width="4.90" stroke-linecap="round" stroke-linejoin="round"/><path d="M1400.4 588.4 L1400.0 591.6" fill="none" stroke="#97a928" stroke-width="4.90" stroke-linecap="round" stroke-linejoin="round"/><path d="M1407.0 591.6 L1415.0 591.6" fill="none" stroke="#97a928" stroke-width="4.90" stroke-linecap="round" stroke-linejoin="round"/><path d="M1347.6 602.0 L1347.6 604.0" fill="none" stroke="#97a928" stroke-width="5.60" stroke-linecap="round" stroke-linejoin="round"/><path d="M1305.0 627.0 L1306.0 628.4" fill="none" stroke="#97a928" stroke-width="5.20" stroke-linecap="round" stroke-linejoin="round"/><path d="M1280.4 633.0 L1286.4 633.0" fill="none" stroke="#97a928" stroke-width="4.80" stroke-linecap="round" stroke-linejoin="round"/><path d="M1401.0 631.6 L1406.0 631.6" fill="none" stroke="#97a928" stroke-width="4.90" stroke-linecap="round" stroke-linejoin="round"/><path d="M1479.0 656.0 L1482.0 655.6" fill="none" stroke="#97a928" stroke-width="4.90" stroke-linecap="round" stroke-linejoin="round"/><path d="M1206.0 720.0 L1210.6 722.4" fill="none" stroke="#97a928" stroke-width="4.90" stroke-linecap="round" stroke-linejoin="round"/><path d="M1288.4 727.4 L1292.0 729.0" fill="none" stroke="#97a928" stroke-width="4.90" stroke-linecap="round" stroke-linejoin="round"/><path d="M1321.0 732.4 L1333.0 735.4" fill="none" stroke="#97a928" stroke-width="4.90" stroke-linecap="round" stroke-linejoin="round"/><path d="M1345.0 738.6 L1353.0 740.4" fill="none" stroke="#97a928" stroke-width="4.90" stroke-linecap="round" stroke-linejoin="round"/><path d="M1393.4 742.6 L1398.0 743.6" fill="none" stroke="#97a928" stroke-width="4.90" stroke-linecap="round" stroke-linejoin="round"/><path d="M1409.6 744.6 L1421.0 747.6" fill="none" stroke="#97a928" stroke-width="4.90" stroke-linecap="round" stroke-linejoin="round"/><path d="M1454.4 749.6 L1462.4 751.6" fill="none" stroke="#97a928" stroke-width="4.90" stroke-linecap="round" stroke-linejoin="round"/><path d="M1301.0 774.6 L1305.0 774.6" fill="none" stroke="#97a928" stroke-width="4.90" stroke-linecap="round" stroke-linejoin="round"/><path d="M1191.0 793.0 L1205.0 793.0" fill="none" stroke="#97a928" stroke-width="4.80" stroke-linecap="round" stroke-linejoin="round"/><path d="M1231.0 812.0 L1233.0 816.0" fill="none" stroke="#97a928" stroke-width="4.90" stroke-linecap="round" stroke-linejoin="round"/><path d="M1181.0 985.0 L1187.0 987.0 L1195.0 995.0 L1205.0 1001.4" fill="none" stroke="#97a928" stroke-width="5.20" stroke-linecap="round" stroke-linejoin="round"/><path d="M1211.0 1002.0 L1223.0 1009.0 L1229.0 1010.0 L1235.0 1012.6 L1240.0 1013.0" fill="none" stroke="#97a928" stroke-width="4.80" stroke-linecap="round" stroke-linejoin="round"/><path d="M1245.0 1014.0 L1260.0 1042.0" fill="none" stroke="#97a928" stroke-width="5.60" stroke-linecap="round" stroke-linejoin="round"/><path d="M1261.0 1015.4 L1273.4 1040.0" fill="none" stroke="#97a928" stroke-width="5.60" stroke-linecap="round" stroke-linejoin="round"/><path d="M1278.6 1043.4 L1287.0 1045.0 L1292.0 1048.0 L1297.0 1050.0 L1306.0 1056.6" fill="none" stroke="#97a928" stroke-width="4.80" stroke-linecap="round" stroke-linejoin="round"/><path d="M1313.0 1058.0 L1319.0 1059.0 L1326.0 1070.0 L1333.0 1073.0 L1343.0 1076.0 L1351.0 1079.0 L1357.0 1081.0 L1365.0 1085.0 L1369.0 1091.0" fill="none" stroke="#97a928" stroke-width="5.20" stroke-linecap="round" stroke-linejoin="round"/><path d="M1364.0 1079.0 L1370.0 1086.0 L1376.0 1086.0 L1382.0 1086.0 L1389.0 1087.0" fill="none" stroke="#97a928" stroke-width="4.90" stroke-linecap="round" stroke-linejoin="round"/><path d="M1381.0 1086.0 L1381.0 1091.0" fill="none" stroke="#97a928" stroke-width="4.90" stroke-linecap="round" stroke-linejoin="round"/><path d="M1197.0 988.0 L1205.0 990.4" fill="none" stroke="#97a928" stroke-width="4.90" stroke-linecap="round" stroke-linejoin="round"/><path d="M1228.0 1006.0 L1229.0 1011.0" fill="none" stroke="#97a928" stroke-width="4.90" stroke-linecap="round" stroke-linejoin="round"/><path d="M1274.0 1006.0 L1277.0 1010.0" fill="none" stroke="#97a928" stroke-width="4.90" stroke-linecap="round" stroke-linejoin="round"/><path d="M1415.0 823.4 L1418.0 823.4" fill="none" stroke="#97a928" stroke-width="4.90" stroke-linecap="round" stroke-linejoin="round"/><path d="M1240.0 832.4 L1244.0 832.4" fill="none" stroke="#97a928" stroke-width="5.20" stroke-linecap="round" stroke-linejoin="round"/><path d="M1283.0 843.4 L1286.6 844.6" fill="none" stroke="#97a928" stroke-width="4.90" stroke-linecap="round" stroke-linejoin="round"/><path d="M1411.0 873.0 L1415.0 873.0" fill="none" stroke="#97a928" stroke-width="4.80" stroke-linecap="round" stroke-linejoin="round"/><path d="M1279.0 945.6 L1287.0 945.6" fill="none" stroke="#97a928" stroke-width="4.80" stroke-linecap="round" stroke-linejoin="round"/><path d="M1282.0 954.0 L1286.6 949.4" fill="none" stroke="#97a928" stroke-width="4.90" stroke-linecap="round" stroke-linejoin="round"/><path d="M1478.0 950.0 L1478.0 954.0" fill="none" stroke="#97a928" stroke-width="4.90" stroke-linecap="round" stroke-linejoin="round"/><path d="M1429.0 962.0 L1430.0 964.0" fill="none" stroke="#97a928" stroke-width="4.90" stroke-linecap="round" stroke-linejoin="round"/><path d="M1389.0 978.0 L1392.4 978.0" fill="none" stroke="#97a928" stroke-width="5.20" stroke-linecap="round" stroke-linejoin="round"/><path d="M1470.6 1005.0 L1470.6 1008.6" fill="none" stroke="#97a928" stroke-width="4.90" stroke-linecap="round" stroke-linejoin="round"/><path d="M1361.0 1082.0 L1369.0 1088.0 L1374.0 1098.0" fill="none" stroke="#97a928" stroke-width="4.80" stroke-linecap="round" stroke-linejoin="round"/><path d="M1365.0 1086.0 L1389.0 1087.6" fill="none" stroke="#97a928" stroke-width="4.90" stroke-linecap="round" stroke-linejoin="round"/><path d="M1383.0 1088.0 L1389.0 1102.0" fill="none" stroke="#97a928" stroke-width="4.90" stroke-linecap="round" stroke-linejoin="round"/><circle cx="259.0" cy="110.0" r="2.45" fill="#97a928"/><circle cx="262.3" cy="113.1" r="2.45" fill="#97a928"/><circle cx="265.6" cy="116.1" r="2.45" fill="#97a928"/><circle cx="268.9" cy="119.2" r="2.45" fill="#97a928"/><circle cx="272.2" cy="122.3" r="2.45" fill="#97a928"/><circle cx="275.4" cy="125.4" r="2.45" fill="#97a928"/><circle cx="278.7" cy="128.4" r="2.45" fill="#97a928"/><circle cx="282.0" cy="131.5" r="2.45" fill="#97a928"/><circle cx="285.3" cy="134.6" r="2.45" fill="#97a928"/><circle cx="288.6" cy="137.6" r="2.45" fill="#97a928"/><circle cx="298.0" cy="23.0" r="2.45" fill="#97a928"/><circle cx="313.0" cy="23.6" r="2.45" fill="#97a928"/><circle cx="388.0" cy="23.6" r="2.45" fill="#97a928"/><circle cx="445.0" cy="23.6" r="2.45" fill="#97a928"/><circle cx="457.0" cy="23.6" r="2.45" fill="#97a928"/><circle cx="422.0" cy="20.0" r="2.45" fill="#97a928"/><circle cx="427.0" cy="20.0" r="2.45" fill="#97a928"/><circle cx="437.0" cy="19.0" r="2.45" fill="#97a928"/><circle cx="297.0" cy="20.0" r="2.45" fill="#97a928"/><circle cx="321.0" cy="26.0" r="2.45" fill="#97a928"/><circle cx="231.0" cy="28.0" r="2.45" fill="#97a928"/><circle cx="294.0" cy="31.0" r="2.45" fill="#97a928"/><circle cx="287.0" cy="35.0" r="2.45" fill="#97a928"/><circle cx="285.0" cy="37.0" r="2.45" fill="#97a928"/><circle cx="298.0" cy="36.0" r="2.45" fill="#97a928"/><circle cx="309.0" cy="34.0" r="2.45" fill="#97a928"/><circle cx="312.0" cy="31.0" r="2.45" fill="#97a928"/><circle cx="321.0" cy="31.6" r="2.45" fill="#97a928"/><circle cx="321.0" cy="36.0" r="2.45" fill="#97a928"/><circle cx="337.0" cy="37.0" r="2.45" fill="#97a928"/><circle cx="340.0" cy="34.0" r="2.45" fill="#97a928"/><circle cx="346.0" cy="36.0" r="2.45" fill="#97a928"/><circle cx="349.0" cy="34.0" r="2.45" fill="#97a928"/><circle cx="389.0" cy="34.0" r="2.45" fill="#97a928"/><circle cx="401.0" cy="33.0" r="2.45" fill="#97a928"/><circle cx="436.0" cy="37.0" r="2.45" fill="#97a928"/><circle cx="472.0" cy="32.0" r="2.45" fill="#97a928"/><circle cx="476.0" cy="38.0" r="2.45" fill="#97a928"/><circle cx="498.0" cy="38.0" r="2.45" fill="#97a928"/><circle cx="272.0" cy="45.0" r="2.45" fill="#97a928"/><circle cx="294.0" cy="43.0" r="2.45" fill="#97a928"/><circle cx="321.0" cy="43.0" r="2.45" fill="#97a928"/><circle cx="335.0" cy="48.0" r="2.45" fill="#97a928"/><circle cx="345.0" cy="43.0" r="2.45" fill="#97a928"/><circle cx="397.0" cy="43.0" r="2.45" fill="#97a928"/><circle cx="444.0" cy="43.0" r="2.45" fill="#97a928"/><circle cx="476.0" cy="48.0" r="2.45" fill="#97a928"/><circle cx="231.0" cy="43.0" r="2.45" fill="#97a928"/><circle cx="314.0" cy="102.0" r="2.45" fill="#97a928"/><circle cx="307.0" cy="109.0" r="2.45" fill="#97a928"/><circle cx="320.0" cy="106.0" r="2.45" fill="#97a928"/><circle cx="338.0" cy="106.0" r="2.45" fill="#97a928"/><circle cx="346.0" cy="106.0" r="2.45" fill="#97a928"/><circle cx="422.0" cy="108.0" r="2.45" fill="#97a928"/><circle cx="440.0" cy="108.0" r="2.45" fill="#97a928"/><circle cx="445.0" cy="106.0" r="2.45" fill="#97a928"/><circle cx="454.0" cy="108.0" r="2.45" fill="#97a928"/><circle cx="460.0" cy="108.0" r="2.45" fill="#97a928"/><circle cx="483.0" cy="106.0" r="2.45" fill="#97a928"/><circle cx="487.0" cy="108.0" r="2.45" fill="#97a928"/><circle cx="283.0" cy="112.0" r="2.45" fill="#97a928"/><circle cx="324.0" cy="138.0" r="2.45" fill="#97a928"/><circle cx="367.0" cy="138.0" r="2.45" fill="#97a928"/><circle cx="435.0" cy="138.0" r="2.45" fill="#97a928"/><circle cx="451.0" cy="138.0" r="2.45" fill="#97a928"/><circle cx="456.0" cy="138.0" r="2.45" fill="#97a928"/><circle cx="461.0" cy="138.0" r="2.45" fill="#97a928"/><circle cx="482.0" cy="138.0" r="2.45" fill="#97a928"/><circle cx="510.0" cy="138.0" r="2.45" fill="#97a928"/><circle cx="516.0" cy="138.0" r="2.45" fill="#97a928"/><circle cx="294.6" cy="146.6" r="2.45" fill="#97a928"/><circle cx="381.0" cy="147.0" r="2.45" fill="#97a928"/><circle cx="384.0" cy="149.0" r="2.45" fill="#97a928"/><circle cx="398.0" cy="144.0" r="2.45" fill="#97a928"/><circle cx="296.0" cy="163.6" r="2.45" fill="#97a928"/><circle cx="314.0" cy="162.4" r="2.45" fill="#97a928"/><circle cx="391.0" cy="171.6" r="2.45" fill="#97a928"/><circle cx="401.0" cy="171.0" r="2.45" fill="#97a928"/><circle cx="390.0" cy="179.0" r="2.45" fill="#97a928"/><circle cx="437.0" cy="171.6" r="2.45" fill="#97a928"/><circle cx="481.0" cy="181.0" r="2.45" fill="#97a928"/><circle cx="367.0" cy="181.0" r="2.45" fill="#97a928"/><circle cx="299.0" cy="185.0" r="2.45" fill="#97a928"/><circle cx="307.0" cy="185.0" r="2.45" fill="#97a928"/><circle cx="310.0" cy="188.0" r="2.45" fill="#97a928"/><circle cx="315.0" cy="192.0" r="2.45" fill="#97a928"/><circle cx="321.0" cy="192.0" r="2.45" fill="#97a928"/><circle cx="314.0" cy="196.0" r="2.45" fill="#97a928"/><circle cx="322.0" cy="196.0" r="2.45" fill="#97a928"/><circle cx="335.0" cy="197.0" r="2.45" fill="#97a928"/><circle cx="340.0" cy="196.0" r="2.45" fill="#97a928"/><circle cx="345.0" cy="191.6" r="2.45" fill="#97a928"/><circle cx="349.0" cy="196.0" r="2.45" fill="#97a928"/><circle cx="393.0" cy="196.0" r="2.45" fill="#97a928"/><circle cx="438.0" cy="187.0" r="2.45" fill="#97a928"/><circle cx="443.0" cy="192.0" r="2.45" fill="#97a928"/><circle cx="454.0" cy="187.0" r="2.45" fill="#97a928"/><circle cx="459.0" cy="188.0" r="2.45" fill="#97a928"/><circle cx="459.0" cy="192.0" r="2.45" fill="#97a928"/><circle cx="468.0" cy="192.0" r="2.45" fill="#97a928"/><circle cx="472.0" cy="188.0" r="2.45" fill="#97a928"/><circle cx="476.0" cy="187.0" r="2.45" fill="#97a928"/><circle cx="476.0" cy="197.0" r="2.45" fill="#97a928"/><circle cx="483.0" cy="197.0" r="2.45" fill="#97a928"/><circle cx="491.0" cy="192.0" r="2.45" fill="#97a928"/><circle cx="326.0" cy="207.0" r="2.45" fill="#97a928"/><circle cx="346.0" cy="210.0" r="2.45" fill="#97a928"/><circle cx="354.0" cy="212.0" r="2.45" fill="#97a928"/><circle cx="362.0" cy="213.0" r="2.45" fill="#97a928"/><circle cx="370.0" cy="212.0" r="2.45" fill="#97a928"/><circle cx="372.0" cy="214.0" r="2.45" fill="#97a928"/><circle cx="380.0" cy="213.0" r="2.45" fill="#97a928"/><circle cx="401.0" cy="215.0" r="2.45" fill="#97a928"/><circle cx="424.0" cy="210.0" r="2.45" fill="#97a928"/><circle cx="478.0" cy="215.0" r="2.45" fill="#97a928"/><circle cx="478.0" cy="218.0" r="2.45" fill="#97a928"/><circle cx="491.0" cy="215.0" r="2.45" fill="#97a928"/><circle cx="515.0" cy="210.0" r="2.45" fill="#97a928"/><circle cx="445.0" cy="222.0" r="2.45" fill="#97a928"/><circle cx="389.0" cy="232.0" r="2.45" fill="#97a928"/><circle cx="387.0" cy="235.0" r="2.45" fill="#97a928"/><circle cx="419.0" cy="231.0" r="2.45" fill="#97a928"/><circle cx="443.0" cy="231.0" r="2.45" fill="#97a928"/><circle cx="450.0" cy="231.0" r="2.45" fill="#97a928"/><circle cx="348.0" cy="237.0" r="2.45" fill="#97a928"/><circle cx="346.0" cy="238.0" r="2.45" fill="#97a928"/><circle cx="406.0" cy="237.6" r="2.45" fill="#97a928"/><circle cx="477.0" cy="238.0" r="2.45" fill="#97a928"/><circle cx="398.0" cy="248.0" r="2.45" fill="#97a928"/><circle cx="397.0" cy="251.0" r="2.45" fill="#97a928"/><circle cx="391.0" cy="266.0" r="1.60" fill="#97a928"/><circle cx="465.0" cy="265.0" r="2.45" fill="#97a928"/><circle cx="462.0" cy="271.0" r="2.45" fill="#97a928"/><circle cx="491.0" cy="271.0" r="2.45" fill="#97a928"/><circle cx="355.0" cy="17.6" r="4.00" fill="#a3a31e"/><circle cx="355.0" cy="33.0" r="4.40" fill="#a3a31e"/><circle cx="355.0" cy="192.0" r="4.40" fill="#a3a31e"/><circle cx="472.0" cy="108.0" r="4.40" fill="#86a04e"/><circle cx="427.0" cy="138.0" r="3.20" fill="#97a928"/><circle cx="434.0" cy="180.0" r="3.20" fill="#97a928"/><circle cx="513.0" cy="180.0" r="3.20" fill="#97a928"/><circle cx="355.0" cy="292.0" r="4.00" fill="#97a928"/><circle cx="372.0" cy="315.0" r="2.45" fill="#97a928"/><circle cx="380.0" cy="326.0" r="2.45" fill="#97a928"/><circle cx="397.0" cy="361.0" r="3.20" fill="#97a928"/><circle cx="399.0" cy="359.0" r="2.45" fill="#97a928"/><circle cx="430.0" cy="404.0" r="2.45" fill="#97a928"/><circle cx="454.0" cy="438.0" r="2.45" fill="#97a928"/><circle cx="463.0" cy="449.0" r="2.45" fill="#97a928"/><circle cx="467.0" cy="454.0" r="2.45" fill="#97a928"/><circle cx="480.0" cy="462.0" r="2.80" fill="#97a928"/><circle cx="368.6" cy="284.0" r="2.45" fill="#97a928"/><circle cx="388.0" cy="278.0" r="2.45" fill="#97a928"/><circle cx="370.0" cy="290.0" r="2.45" fill="#97a928"/><circle cx="375.0" cy="296.6" r="2.45" fill="#97a928"/><circle cx="390.0" cy="296.6" r="2.45" fill="#97a928"/><circle cx="407.0" cy="293.0" r="2.45" fill="#97a928"/><circle cx="371.0" cy="303.0" r="2.45" fill="#97a928"/><circle cx="380.0" cy="303.4" r="2.45" fill="#97a928"/><circle cx="447.0" cy="280.0" r="2.45" fill="#97a928"/><circle cx="475.0" cy="280.0" r="2.45" fill="#97a928"/><circle cx="443.0" cy="292.4" r="2.80" fill="#97a928"/><circle cx="458.6" cy="293.0" r="2.45" fill="#97a928"/><circle cx="488.0" cy="290.0" r="2.45" fill="#97a928"/><circle cx="491.0" cy="293.0" r="2.45" fill="#97a928"/><circle cx="500.0" cy="292.0" r="2.45" fill="#97a928"/><circle cx="488.0" cy="302.6" r="2.45" fill="#97a928"/><circle cx="441.0" cy="320.0" r="2.45" fill="#97a928"/><circle cx="437.4" cy="323.4" r="2.45" fill="#97a928"/><circle cx="447.0" cy="324.6" r="2.45" fill="#97a928"/><circle cx="453.0" cy="327.0" r="2.45" fill="#97a928"/><circle cx="454.0" cy="330.0" r="2.45" fill="#97a928"/><circle cx="471.0" cy="320.4" r="2.45" fill="#97a928"/><circle cx="394.0" cy="328.4" r="2.45" fill="#97a928"/><circle cx="404.2" cy="329.6" r="2.45" fill="#97a928"/><circle cx="439.0" cy="345.6" r="2.45" fill="#97a928"/><circle cx="437.4" cy="355.6" r="2.45" fill="#97a928"/><circle cx="447.4" cy="355.6" r="2.45" fill="#97a928"/><circle cx="495.0" cy="388.4" r="2.45" fill="#97a928"/><circle cx="447.0" cy="416.0" r="2.45" fill="#97a928"/><circle cx="497.4" cy="423.6" r="2.45" fill="#97a928"/><circle cx="411.0" cy="346.0" r="2.45" fill="#97a928"/><circle cx="462.0" cy="273.0" r="2.45" fill="#97a928"/><circle cx="491.0" cy="273.0" r="2.45" fill="#97a928"/><circle cx="628.0" cy="54.0" r="2.45" fill="#97a928"/><circle cx="629.9" cy="59.2" r="2.45" fill="#97a928"/><circle cx="631.8" cy="64.3" r="2.45" fill="#97a928"/><circle cx="633.7" cy="69.5" r="2.45" fill="#97a928"/><circle cx="635.5" cy="74.7" r="2.45" fill="#97a928"/><circle cx="637.0" cy="80.0" r="2.45" fill="#97a928"/><circle cx="638.5" cy="85.3" r="2.45" fill="#97a928"/><circle cx="639.9" cy="90.6" r="2.45" fill="#97a928"/><circle cx="641.4" cy="95.9" r="2.45" fill="#97a928"/><circle cx="642.9" cy="101.2" r="2.45" fill="#97a928"/><circle cx="624.0" cy="138.0" r="2.45" fill="#97a928"/><circle cx="627.4" cy="141.0" r="2.45" fill="#97a928"/><circle cx="630.7" cy="144.0" r="2.45" fill="#97a928"/><circle cx="633.8" cy="147.2" r="2.45" fill="#97a928"/><circle cx="636.2" cy="151.1" r="2.45" fill="#97a928"/><circle cx="638.5" cy="154.9" r="2.45" fill="#97a928"/><circle cx="640.9" cy="158.7" r="2.45" fill="#97a928"/><circle cx="575.0" cy="17.6" r="4.00" fill="#97a928"/><circle cx="586.0" cy="17.0" r="3.60" fill="#97a928"/><circle cx="596.0" cy="19.0" r="3.60" fill="#97a928"/><circle cx="821.0" cy="17.6" r="4.00" fill="#97a928"/><circle cx="834.0" cy="17.6" r="4.00" fill="#86a04e"/><circle cx="585.0" cy="23.6" r="2.45" fill="#97a928"/><circle cx="586.0" cy="25.0" r="2.45" fill="#97a928"/><circle cx="608.0" cy="24.0" r="2.45" fill="#97a928"/><circle cx="614.0" cy="24.0" r="2.45" fill="#97a928"/><circle cx="620.0" cy="24.0" r="2.45" fill="#97a928"/><circle cx="625.0" cy="24.0" r="2.45" fill="#97a928"/><circle cx="634.0" cy="24.0" r="2.45" fill="#97a928"/><circle cx="641.0" cy="24.0" r="2.45" fill="#97a928"/><circle cx="614.0" cy="27.0" r="2.45" fill="#97a928"/><circle cx="608.0" cy="26.0" r="2.45" fill="#97a928"/><circle cx="641.0" cy="25.0" r="2.45" fill="#97a928"/><circle cx="523.0" cy="32.0" r="4.00" fill="#97a928"/><circle cx="525.0" cy="37.0" r="2.45" fill="#97a928"/><circle cx="530.6" cy="37.0" r="2.45" fill="#97a928"/><circle cx="581.0" cy="32.0" r="2.45" fill="#97a928"/><circle cx="600.0" cy="34.0" r="2.45" fill="#97a928"/><circle cx="603.0" cy="40.0" r="2.45" fill="#97a928"/><circle cx="612.0" cy="43.0" r="2.45" fill="#97a928"/><circle cx="649.0" cy="33.0" r="2.45" fill="#97a928"/><circle cx="652.0" cy="30.0" r="2.45" fill="#97a928"/><circle cx="644.0" cy="48.0" r="2.45" fill="#97a928"/><circle cx="811.0" cy="38.0" r="2.45" fill="#97a928"/><circle cx="808.0" cy="37.0" r="2.45" fill="#97a928"/><circle cx="534.0" cy="108.0" r="2.45" fill="#97a928"/><circle cx="555.0" cy="108.0" r="2.45" fill="#97a928"/><circle cx="577.0" cy="108.0" r="2.45" fill="#97a928"/><circle cx="583.0" cy="109.0" r="2.45" fill="#97a928"/><circle cx="616.4" cy="108.0" r="2.45" fill="#97a928"/><circle cx="626.6" cy="108.0" r="2.45" fill="#97a928"/><circle cx="653.0" cy="107.0" r="2.45" fill="#97a928"/><circle cx="724.0" cy="108.0" r="2.45" fill="#97a928"/><circle cx="809.0" cy="108.0" r="2.45" fill="#97a928"/><circle cx="817.0" cy="108.0" r="2.45" fill="#97a928"/><circle cx="835.0" cy="106.0" r="2.45" fill="#97a928"/><circle cx="518.0" cy="138.0" r="2.45" fill="#97a928"/><circle cx="557.0" cy="138.0" r="2.45" fill="#97a928"/><circle cx="573.0" cy="138.0" r="2.45" fill="#97a928"/><circle cx="518.0" cy="180.0" r="3.60" fill="#97a928"/><circle cx="545.0" cy="177.6" r="2.45" fill="#97a928"/><circle cx="603.0" cy="177.0" r="2.45" fill="#97a928"/><circle cx="523.0" cy="192.0" r="2.45" fill="#97a928"/><circle cx="526.0" cy="192.0" r="2.45" fill="#97a928"/><circle cx="575.0" cy="188.0" r="2.45" fill="#97a928"/><circle cx="556.0" cy="196.0" r="2.45" fill="#97a928"/><circle cx="588.4" cy="192.0" r="2.45" fill="#97a928"/><circle cx="599.0" cy="188.0" r="2.45" fill="#97a928"/><circle cx="605.0" cy="188.0" r="2.45" fill="#97a928"/><circle cx="623.0" cy="188.0" r="2.45" fill="#97a928"/><circle cx="645.0" cy="191.6" r="2.45" fill="#97a928"/><circle cx="808.0" cy="183.6" r="2.45" fill="#97a928"/><circle cx="812.0" cy="192.0" r="2.45" fill="#97a928"/><circle cx="815.0" cy="188.0" r="2.45" fill="#97a928"/><circle cx="821.0" cy="192.0" r="4.40" fill="#86a04e"/><circle cx="827.0" cy="188.0" r="2.45" fill="#97a928"/><circle cx="837.0" cy="188.0" r="2.45" fill="#97a928"/><circle cx="517.0" cy="210.0" r="2.45" fill="#97a928"/><circle cx="536.6" cy="213.0" r="2.45" fill="#97a928"/><circle cx="647.0" cy="210.0" r="2.45" fill="#97a928"/><circle cx="794.0" cy="207.0" r="2.45" fill="#97a928"/><circle cx="556.0" cy="221.0" r="2.45" fill="#97a928"/><circle cx="528.0" cy="231.6" r="2.45" fill="#97a928"/><circle cx="579.0" cy="230.4" r="2.45" fill="#97a928"/><circle cx="585.0" cy="231.6" r="2.45" fill="#97a928"/><circle cx="625.0" cy="231.6" r="2.45" fill="#97a928"/><circle cx="646.0" cy="230.4" r="2.45" fill="#97a928"/><circle cx="658.0" cy="229.6" r="2.45" fill="#97a928"/><circle cx="835.0" cy="224.4" r="2.45" fill="#97a928"/><circle cx="829.0" cy="231.0" r="2.45" fill="#97a928"/><circle cx="669.4" cy="426.6" r="2.45" fill="#97a928"/><circle cx="670.6" cy="433.0" r="2.45" fill="#97a928"/><circle cx="672.0" cy="439.3" r="2.45" fill="#97a928"/><circle cx="673.4" cy="445.7" r="2.45" fill="#97a928"/><circle cx="674.8" cy="452.0" r="2.45" fill="#97a928"/><circle cx="675.4" cy="458.5" r="2.45" fill="#97a928"/><circle cx="676.9" cy="464.8" r="2.45" fill="#97a928"/><circle cx="540.6" cy="287.0" r="2.45" fill="#97a928"/><circle cx="612.6" cy="281.0" r="2.45" fill="#97a928"/><circle cx="655.0" cy="283.0" r="2.45" fill="#97a928"/><circle cx="834.4" cy="281.4" r="2.45" fill="#97a928"/><circle cx="575.0" cy="308.6" r="2.45" fill="#97a928"/><circle cx="581.4" cy="311.4" r="2.45" fill="#97a928"/><circle cx="617.6" cy="299.0" r="2.45" fill="#97a928"/><circle cx="623.0" cy="300.4" r="2.45" fill="#97a928"/><circle cx="659.0" cy="317.4" r="2.45" fill="#97a928"/><circle cx="837.4" cy="298.2" r="2.45" fill="#97a928"/><circle cx="836.4" cy="304.4" r="2.45" fill="#97a928"/><circle cx="832.4" cy="326.6" r="2.45" fill="#97a928"/><circle cx="538.6" cy="362.0" r="2.45" fill="#97a928"/><circle cx="587.4" cy="359.0" r="2.45" fill="#97a928"/><circle cx="555.0" cy="371.0" r="2.45" fill="#97a928"/><circle cx="634.0" cy="365.0" r="2.45" fill="#97a928"/><circle cx="833.0" cy="351.0" r="2.45" fill="#97a928"/><circle cx="822.0" cy="358.0" r="3.20" fill="#97a928"/><circle cx="650.0" cy="397.4" r="2.45" fill="#97a928"/><circle cx="661.0" cy="394.4" r="2.45" fill="#97a928"/><circle cx="668.6" cy="393.4" r="2.45" fill="#97a928"/><circle cx="546.0" cy="400.4" r="2.45" fill="#97a928"/><circle cx="573.4" cy="412.6" r="2.45" fill="#97a928"/><circle cx="592.4" cy="416.6" r="2.45" fill="#97a928"/><circle cx="572.2" cy="420.8" r="2.45" fill="#97a928"/><circle cx="825.0" cy="416.0" r="2.45" fill="#97a928"/><circle cx="815.0" cy="421.4" r="2.45" fill="#97a928"/><circle cx="820.0" cy="420.6" r="2.45" fill="#97a928"/><circle cx="831.4" cy="420.6" r="2.45" fill="#97a928"/><circle cx="685.6" cy="501.6" r="2.45" fill="#97a928"/><circle cx="584.4" cy="429.8" r="2.45" fill="#97a928"/><circle cx="592.4" cy="432.6" r="2.45" fill="#97a928"/><circle cx="597.0" cy="431.0" r="2.45" fill="#97a928"/><circle cx="605.6" cy="441.0" r="2.45" fill="#97a928"/><circle cx="585.4" cy="447.0" r="2.45" fill="#97a928"/><circle cx="593.4" cy="452.0" r="2.45" fill="#97a928"/><circle cx="824.4" cy="432.6" r="2.45" fill="#97a928"/><circle cx="648.0" cy="453.0" r="2.45" fill="#97a928"/><circle cx="815.0" cy="457.0" r="2.45" fill="#97a928"/><circle cx="809.0" cy="465.6" r="2.45" fill="#97a928"/><circle cx="833.0" cy="465.6" r="4.40" fill="#86a04e"/><circle cx="557.0" cy="469.4" r="2.45" fill="#97a928"/><circle cx="573.4" cy="471.4" r="2.45" fill="#97a928"/><circle cx="595.4" cy="475.4" r="2.45" fill="#97a928"/><circle cx="836.4" cy="495.4" r="2.45" fill="#97a928"/><circle cx="541.6" cy="526.6" r="2.45" fill="#97a928"/><circle cx="526.4" cy="536.0" r="2.45" fill="#97a928"/><circle cx="538.6" cy="541.0" r="2.45" fill="#97a928"/><circle cx="689.4" cy="539.0" r="2.45" fill="#97a928"/><circle cx="692.0" cy="545.0" r="2.45" fill="#97a928"/><circle cx="537.0" cy="549.0" r="3.60" fill="#97a928"/><circle cx="543.0" cy="553.0" r="3.20" fill="#97a928"/><circle cx="587.0" cy="596.0" r="2.80" fill="#97a928"/><circle cx="592.0" cy="601.0" r="3.20" fill="#97a928"/><circle cx="606.0" cy="614.0" r="3.20" fill="#97a928"/><circle cx="625.0" cy="637.0" r="3.20" fill="#97a928"/><circle cx="636.0" cy="645.0" r="2.80" fill="#97a928"/><circle cx="807.0" cy="766.0" r="2.80" fill="#97a928"/><circle cx="827.0" cy="784.0" r="2.80" fill="#97a928"/><circle cx="835.0" cy="787.0" r="2.80" fill="#97a928"/><circle cx="677.0" cy="655.4" r="2.45" fill="#97a928"/><circle cx="686.0" cy="656.4" r="2.45" fill="#97a928"/><circle cx="691.4" cy="547.0" r="2.45" fill="#97a928"/><circle cx="690.4" cy="552.4" r="2.45" fill="#97a928"/><circle cx="660.0" cy="565.4" r="2.45" fill="#97a928"/><circle cx="621.0" cy="584.0" r="3.20" fill="#97a928"/><circle cx="627.0" cy="588.6" r="2.45" fill="#97a928"/><circle cx="625.0" cy="592.0" r="2.45" fill="#97a928"/><circle cx="600.4" cy="589.6" r="2.45" fill="#97a928"/><circle cx="598.6" cy="598.0" r="3.20" fill="#97a928"/><circle cx="651.0" cy="586.6" r="2.45" fill="#97a928"/><circle cx="692.4" cy="585.6" r="2.45" fill="#97a928"/><circle cx="816.4" cy="597.0" r="2.80" fill="#97a928"/><circle cx="816.0" cy="610.0" r="2.45" fill="#97a928"/><circle cx="827.0" cy="615.0" r="2.45" fill="#97a928"/><circle cx="774.4" cy="629.0" r="2.45" fill="#97a928"/><circle cx="735.0" cy="639.2" r="2.45" fill="#97a928"/><circle cx="810.0" cy="658.0" r="2.80" fill="#97a928"/><circle cx="817.0" cy="659.6" r="2.45" fill="#97a928"/><circle cx="820.0" cy="660.6" r="2.45" fill="#97a928"/><circle cx="829.0" cy="661.4" r="2.45" fill="#97a928"/><circle cx="828.4" cy="766.0" r="3.20" fill="#97a928"/><circle cx="830.4" cy="778.4" r="2.80" fill="#97a928"/><circle cx="943.0" cy="17.0" r="4.00" fill="#97a928"/><circle cx="961.0" cy="17.0" r="4.00" fill="#97a928"/><circle cx="1021.0" cy="19.0" r="3.60" fill="#97a928"/><circle cx="856.0" cy="24.0" r="3.60" fill="#97a928"/><circle cx="871.0" cy="24.0" r="2.45" fill="#97a928"/><circle cx="906.0" cy="24.0" r="2.45" fill="#97a928"/><circle cx="914.0" cy="24.0" r="2.45" fill="#97a928"/><circle cx="933.0" cy="24.0" r="2.45" fill="#97a928"/><circle cx="967.0" cy="22.0" r="4.00" fill="#97a928"/><circle cx="973.0" cy="25.0" r="2.45" fill="#97a928"/><circle cx="1002.0" cy="24.0" r="2.45" fill="#97a928"/><circle cx="1020.0" cy="24.0" r="4.40" fill="#97a928"/><circle cx="1066.0" cy="24.0" r="2.45" fill="#97a928"/><circle cx="1077.0" cy="24.0" r="2.45" fill="#97a928"/><circle cx="1082.0" cy="25.0" r="2.45" fill="#97a928"/><circle cx="1086.0" cy="24.0" r="2.45" fill="#97a928"/><circle cx="1092.0" cy="22.0" r="2.45" fill="#97a928"/><circle cx="1118.0" cy="24.0" r="2.45" fill="#97a928"/><circle cx="1143.0" cy="28.0" r="2.45" fill="#97a928"/><circle cx="1154.0" cy="24.0" r="2.45" fill="#97a928"/><circle cx="1167.0" cy="24.0" r="2.45" fill="#97a928"/><circle cx="1177.0" cy="24.0" r="2.45" fill="#97a928"/><circle cx="1082.0" cy="35.0" r="2.45" fill="#97a928"/><circle cx="944.6" cy="31.0" r="2.45" fill="#97a928"/><circle cx="923.0" cy="35.0" r="2.45" fill="#97a928"/><circle cx="851.0" cy="43.0" r="2.45" fill="#97a928"/><circle cx="953.0" cy="43.0" r="2.45" fill="#97a928"/><circle cx="968.0" cy="43.0" r="2.45" fill="#97a928"/><circle cx="974.0" cy="43.0" r="2.45" fill="#97a928"/><circle cx="985.0" cy="43.0" r="2.45" fill="#97a928"/><circle cx="1001.0" cy="43.0" r="2.45" fill="#97a928"/><circle cx="1011.0" cy="43.0" r="2.45" fill="#97a928"/><circle cx="1015.0" cy="43.0" r="2.45" fill="#97a928"/><circle cx="1022.0" cy="42.0" r="2.45" fill="#97a928"/><circle cx="1044.0" cy="43.0" r="2.45" fill="#97a928"/><circle cx="1054.0" cy="43.0" r="2.45" fill="#97a928"/><circle cx="1077.0" cy="43.0" r="2.45" fill="#97a928"/><circle cx="1161.0" cy="43.0" r="2.45" fill="#97a928"/><circle cx="1171.0" cy="43.0" r="2.45" fill="#97a928"/><circle cx="1179.0" cy="43.0" r="2.45" fill="#97a928"/><circle cx="1022.4" cy="73.6" r="2.45" fill="#97a928"/><circle cx="883.4" cy="108.0" r="2.45" fill="#97a928"/><circle cx="896.0" cy="108.0" r="2.45" fill="#97a928"/><circle cx="921.0" cy="108.0" r="2.45" fill="#97a928"/><circle cx="931.0" cy="108.0" r="2.45" fill="#97a928"/><circle cx="947.0" cy="108.0" r="2.45" fill="#97a928"/><circle cx="966.0" cy="108.0" r="2.45" fill="#97a928"/><circle cx="974.0" cy="106.0" r="2.45" fill="#97a928"/><circle cx="996.0" cy="109.0" r="2.45" fill="#97a928"/><circle cx="1001.0" cy="108.0" r="2.45" fill="#97a928"/><circle cx="1009.0" cy="105.0" r="2.45" fill="#97a928"/><circle cx="1025.0" cy="108.0" r="2.45" fill="#97a928"/><circle cx="1035.0" cy="108.0" r="2.45" fill="#97a928"/><circle cx="1038.0" cy="108.0" r="2.45" fill="#97a928"/><circle cx="1044.0" cy="107.0" r="2.45" fill="#97a928"/><circle cx="1046.0" cy="106.0" r="2.45" fill="#97a928"/><circle cx="1072.0" cy="108.0" r="2.45" fill="#97a928"/><circle cx="1079.0" cy="108.0" r="2.45" fill="#97a928"/><circle cx="1090.0" cy="108.0" r="2.45" fill="#97a928"/><circle cx="1096.0" cy="108.0" r="2.45" fill="#97a928"/><circle cx="1115.0" cy="108.0" r="4.40" fill="#97a928"/><circle cx="1138.0" cy="106.0" r="2.45" fill="#97a928"/><circle cx="1145.0" cy="109.0" r="2.45" fill="#97a928"/><circle cx="1141.0" cy="108.0" r="2.45" fill="#97a928"/><circle cx="1171.0" cy="106.0" r="2.45" fill="#97a928"/><circle cx="1179.0" cy="106.0" r="2.45" fill="#97a928"/><circle cx="1021.4" cy="124.0" r="2.45" fill="#97a928"/><circle cx="885.6" cy="138.0" r="2.45" fill="#97a928"/><circle cx="904.0" cy="138.0" r="2.45" fill="#97a928"/><circle cx="934.0" cy="138.0" r="2.80" fill="#97a928"/><circle cx="985.0" cy="138.0" r="2.45" fill="#97a928"/><circle cx="989.0" cy="138.0" r="2.45" fill="#97a928"/><circle cx="1022.0" cy="137.0" r="3.20" fill="#97a928"/><circle cx="1028.0" cy="138.0" r="2.45" fill="#97a928"/><circle cx="1036.0" cy="138.0" r="2.45" fill="#97a928"/><circle cx="1039.0" cy="138.0" r="2.45" fill="#97a928"/><circle cx="1053.0" cy="136.0" r="2.45" fill="#97a928"/><circle cx="1058.0" cy="138.4" r="2.45" fill="#97a928"/><circle cx="1112.6" cy="138.0" r="2.45" fill="#97a928"/><circle cx="1001.0" cy="145.6" r="2.45" fill="#97a928"/><circle cx="1011.0" cy="143.6" r="2.45" fill="#97a928"/><circle cx="1015.0" cy="150.4" r="2.45" fill="#97a928"/><circle cx="1022.4" cy="147.6" r="2.45" fill="#97a928"/><circle cx="985.0" cy="149.6" r="2.45" fill="#97a928"/><circle cx="1141.6" cy="166.6" r="2.45" fill="#97a928"/><circle cx="852.0" cy="188.0" r="2.45" fill="#97a928"/><circle cx="859.0" cy="183.6" r="2.45" fill="#97a928"/><circle cx="863.0" cy="188.0" r="2.45" fill="#97a928"/><circle cx="870.0" cy="183.6" r="2.45" fill="#97a928"/><circle cx="871.0" cy="192.0" r="2.45" fill="#97a928"/><circle cx="874.0" cy="187.6" r="2.45" fill="#97a928"/><circle cx="881.0" cy="188.0" r="2.45" fill="#97a928"/><circle cx="895.0" cy="187.0" r="2.45" fill="#97a928"/><circle cx="917.0" cy="192.0" r="2.45" fill="#97a928"/><circle cx="932.0" cy="192.0" r="2.45" fill="#97a928"/><circle cx="952.0" cy="186.0" r="2.45" fill="#97a928"/><circle cx="953.0" cy="191.0" r="2.45" fill="#97a928"/><circle cx="958.0" cy="183.6" r="2.45" fill="#97a928"/><circle cx="960.0" cy="188.0" r="2.45" fill="#97a928"/><circle cx="977.0" cy="191.0" r="2.45" fill="#97a928"/><circle cx="979.0" cy="188.0" r="2.45" fill="#97a928"/><circle cx="986.6" cy="191.6" r="2.45" fill="#97a928"/><circle cx="996.0" cy="191.6" r="2.45" fill="#97a928"/><circle cx="1023.0" cy="188.0" r="2.45" fill="#97a928"/><circle cx="1033.0" cy="191.6" r="2.45" fill="#97a928"/><circle cx="1043.0" cy="183.6" r="2.45" fill="#97a928"/><circle cx="1050.6" cy="183.6" r="2.45" fill="#97a928"/><circle cx="1064.0" cy="181.0" r="2.45" fill="#97a928"/><circle cx="1128.6" cy="187.0" r="2.45" fill="#97a928"/><circle cx="1141.4" cy="191.6" r="2.45" fill="#97a928"/><circle cx="1151.0" cy="188.0" r="2.45" fill="#97a928"/><circle cx="1157.0" cy="187.6" r="2.45" fill="#97a928"/><circle cx="1167.0" cy="180.0" r="4.40" fill="#97a928"/><circle cx="1151.0" cy="192.0" r="2.45" fill="#97a928"/><circle cx="1161.0" cy="197.0" r="2.45" fill="#97a928"/><circle cx="1177.0" cy="183.6" r="2.45" fill="#97a928"/><circle cx="1176.0" cy="188.0" r="2.45" fill="#97a928"/><circle cx="943.0" cy="213.0" r="3.20" fill="#97a928"/><circle cx="1045.0" cy="216.0" r="2.45" fill="#97a928"/><circle cx="1053.4" cy="216.0" r="2.45" fill="#97a928"/><circle cx="1077.0" cy="216.0" r="2.45" fill="#97a928"/><circle cx="1097.0" cy="213.0" r="2.45" fill="#97a928"/><circle cx="1163.0" cy="215.0" r="2.45" fill="#97a928"/><circle cx="1173.0" cy="213.0" r="2.45" fill="#97a928"/><circle cx="863.0" cy="231.0" r="3.20" fill="#97a928"/><circle cx="880.6" cy="231.0" r="2.45" fill="#97a928"/><circle cx="1031.0" cy="231.6" r="2.45" fill="#97a928"/><circle cx="1078.0" cy="231.0" r="2.45" fill="#97a928"/><circle cx="1124.6" cy="227.6" r="2.45" fill="#97a928"/><circle cx="1136.6" cy="230.4" r="2.45" fill="#97a928"/><circle cx="1146.6" cy="227.6" r="2.45" fill="#97a928"/><circle cx="1151.0" cy="232.4" r="2.45" fill="#97a928"/><circle cx="1159.4" cy="227.0" r="3.20" fill="#97a928"/><circle cx="1163.0" cy="231.6" r="2.45" fill="#97a928"/><circle cx="1170.0" cy="231.6" r="2.45" fill="#97a928"/><circle cx="1179.0" cy="231.0" r="2.45" fill="#97a928"/><circle cx="1018.6" cy="237.6" r="2.45" fill="#97a928"/><circle cx="953.4" cy="242.6" r="2.45" fill="#97a928"/><circle cx="953.4" cy="259.6" r="2.45" fill="#97a928"/><circle cx="907.0" cy="265.6" r="2.45" fill="#97a928"/><circle cx="991.0" cy="265.0" r="2.45" fill="#97a928"/><circle cx="985.0" cy="268.0" r="2.45" fill="#97a928"/><circle cx="1021.4" cy="270.0" r="2.45" fill="#97a928"/><circle cx="1158.0" cy="246.4" r="2.45" fill="#97a928"/><circle cx="1155.0" cy="253.0" r="2.45" fill="#97a928"/><circle cx="1118.6" cy="265.6" r="2.45" fill="#97a928"/><circle cx="1135.0" cy="265.6" r="2.45" fill="#97a928"/><circle cx="1144.0" cy="267.0" r="2.45" fill="#97a928"/><circle cx="1148.0" cy="266.0" r="2.45" fill="#97a928"/><circle cx="1156.0" cy="265.0" r="2.45" fill="#97a928"/><circle cx="1138.0" cy="271.0" r="2.45" fill="#97a928"/><circle cx="1149.0" cy="271.0" r="2.45" fill="#97a928"/><circle cx="981.0" cy="273.0" r="2.45" fill="#97a928"/><circle cx="865.6" cy="281.0" r="2.45" fill="#97a928"/><circle cx="981.0" cy="274.0" r="2.45" fill="#97a928"/><circle cx="986.0" cy="276.0" r="2.45" fill="#97a928"/><circle cx="1150.0" cy="274.6" r="2.45" fill="#97a928"/><circle cx="1123.4" cy="285.0" r="2.45" fill="#97a928"/><circle cx="1128.6" cy="284.0" r="2.45" fill="#97a928"/><circle cx="1180.0" cy="282.0" r="2.45" fill="#97a928"/><circle cx="870.6" cy="293.0" r="2.45" fill="#97a928"/><circle cx="915.0" cy="293.0" r="2.45" fill="#97a928"/><circle cx="932.4" cy="293.0" r="2.45" fill="#97a928"/><circle cx="987.0" cy="293.0" r="2.45" fill="#97a928"/><circle cx="852.6" cy="304.0" r="2.45" fill="#97a928"/><circle cx="1023.4" cy="304.0" r="2.45" fill="#97a928"/><circle cx="1049.6" cy="303.4" r="2.45" fill="#97a928"/><circle cx="1060.6" cy="304.0" r="2.45" fill="#97a928"/><circle cx="1084.2" cy="296.0" r="2.45" fill="#97a928"/><circle cx="1094.2" cy="293.0" r="2.45" fill="#97a928"/><circle cx="1092.2" cy="298.6" r="2.45" fill="#97a928"/><circle cx="876.0" cy="316.4" r="2.80" fill="#97a928"/><circle cx="890.6" cy="320.4" r="2.45" fill="#97a928"/><circle cx="932.4" cy="316.4" r="2.45" fill="#97a928"/><circle cx="979.0" cy="320.4" r="2.45" fill="#97a928"/><circle cx="1095.0" cy="320.4" r="2.45" fill="#97a928"/><circle cx="1112.4" cy="320.4" r="2.45" fill="#97a928"/><circle cx="1130.4" cy="316.4" r="2.45" fill="#97a928"/><circle cx="1152.0" cy="320.4" r="2.45" fill="#97a928"/><circle cx="899.0" cy="329.6" r="2.45" fill="#97a928"/><circle cx="979.0" cy="330.6" r="2.45" fill="#97a928"/><circle cx="987.0" cy="328.6" r="2.45" fill="#97a928"/><circle cx="997.4" cy="330.6" r="2.80" fill="#97a928"/><circle cx="1027.4" cy="329.6" r="2.45" fill="#97a928"/><circle cx="1120.4" cy="326.4" r="2.45" fill="#97a928"/><circle cx="1123.6" cy="330.6" r="2.45" fill="#97a928"/><circle cx="868.4" cy="348.6" r="2.45" fill="#97a928"/><circle cx="874.6" cy="345.6" r="2.45" fill="#97a928"/><circle cx="949.6" cy="351.0" r="2.45" fill="#97a928"/><circle cx="968.6" cy="347.6" r="2.45" fill="#97a928"/><circle cx="974.0" cy="350.0" r="2.45" fill="#97a928"/><circle cx="1061.6" cy="343.6" r="2.45" fill="#97a928"/><circle cx="1087.0" cy="351.6" r="2.45" fill="#97a928"/><circle cx="866.0" cy="356.6" r="2.45" fill="#97a928"/><circle cx="887.6" cy="359.0" r="2.45" fill="#97a928"/><circle cx="904.0" cy="359.0" r="2.45" fill="#97a928"/><circle cx="983.0" cy="361.0" r="2.45" fill="#97a928"/><circle cx="992.0" cy="361.0" r="3.20" fill="#97a928"/><circle cx="997.0" cy="358.0" r="2.45" fill="#97a928"/><circle cx="1005.6" cy="361.0" r="3.20" fill="#97a928"/><circle cx="1081.0" cy="359.0" r="2.45" fill="#97a928"/><circle cx="1084.6" cy="356.6" r="2.45" fill="#97a928"/><circle cx="1088.6" cy="361.0" r="3.20" fill="#97a928"/><circle cx="1098.4" cy="362.0" r="2.45" fill="#97a928"/><circle cx="1155.0" cy="361.0" r="2.45" fill="#97a928"/><circle cx="984.0" cy="368.0" r="2.45" fill="#97a928"/><circle cx="941.4" cy="369.0" r="2.45" fill="#97a928"/><circle cx="1020.4" cy="375.4" r="2.45" fill="#97a928"/><circle cx="892.0" cy="390.4" r="2.45" fill="#97a928"/><circle cx="920.4" cy="386.4" r="2.45" fill="#97a928"/><circle cx="1034.0" cy="386.4" r="2.80" fill="#97a928"/><circle cx="902.6" cy="396.4" r="2.45" fill="#97a928"/><circle cx="903.0" cy="401.4" r="2.45" fill="#97a928"/><circle cx="912.0" cy="396.4" r="2.45" fill="#97a928"/><circle cx="919.0" cy="396.4" r="2.45" fill="#97a928"/><circle cx="937.4" cy="396.4" r="2.45" fill="#97a928"/><circle cx="861.4" cy="405.4" r="2.45" fill="#97a928"/><circle cx="879.6" cy="405.4" r="2.45" fill="#97a928"/><circle cx="1075.0" cy="400.4" r="2.45" fill="#97a928"/><circle cx="909.4" cy="416.0" r="2.80" fill="#97a928"/><circle cx="855.4" cy="422.0" r="2.80" fill="#97a928"/><circle cx="942.4" cy="420.6" r="2.80" fill="#97a928"/><circle cx="968.6" cy="419.6" r="2.45" fill="#97a928"/><circle cx="1040.4" cy="416.6" r="2.45" fill="#97a928"/><circle cx="1115.4" cy="416.6" r="2.45" fill="#97a928"/><circle cx="1138.6" cy="420.6" r="2.45" fill="#97a928"/><circle cx="1179.4" cy="420.6" r="2.45" fill="#97a928"/><circle cx="911.4" cy="425.6" r="2.45" fill="#97a928"/><circle cx="909.0" cy="432.6" r="2.45" fill="#97a928"/><circle cx="1026.4" cy="429.6" r="2.45" fill="#97a928"/><circle cx="1040.4" cy="432.6" r="2.45" fill="#97a928"/><circle cx="1115.4" cy="432.6" r="2.45" fill="#97a928"/><circle cx="925.2" cy="443.8" r="2.45" fill="#97a928"/><circle cx="1027.4" cy="443.0" r="2.45" fill="#97a928"/><circle cx="1038.4" cy="443.0" r="2.45" fill="#97a928"/><circle cx="1139.8" cy="441.0" r="2.45" fill="#97a928"/><circle cx="972.4" cy="447.0" r="2.80" fill="#97a928"/><circle cx="897.0" cy="449.0" r="2.45" fill="#97a928"/><circle cx="907.0" cy="453.0" r="2.45" fill="#97a928"/><circle cx="980.8" cy="456.0" r="2.45" fill="#97a928"/><circle cx="1027.4" cy="454.0" r="2.45" fill="#97a928"/><circle cx="1045.6" cy="454.0" r="2.45" fill="#97a928"/><circle cx="1057.0" cy="454.0" r="2.45" fill="#97a928"/><circle cx="1137.0" cy="454.0" r="2.80" fill="#97a928"/><circle cx="1157.0" cy="451.0" r="2.45" fill="#97a928"/><circle cx="1163.0" cy="454.0" r="2.45" fill="#97a928"/><circle cx="1173.0" cy="454.0" r="2.45" fill="#97a928"/><circle cx="979.8" cy="465.6" r="2.80" fill="#97a928"/><circle cx="1037.0" cy="469.4" r="2.80" fill="#97a928"/><circle cx="1087.0" cy="474.4" r="2.45" fill="#97a928"/><circle cx="1161.0" cy="478.4" r="2.45" fill="#97a928"/><circle cx="922.4" cy="474.4" r="2.45" fill="#97a928"/><circle cx="852.6" cy="498.6" r="2.45" fill="#97a928"/><circle cx="935.4" cy="502.6" r="2.45" fill="#97a928"/><circle cx="1027.4" cy="504.6" r="2.45" fill="#97a928"/><circle cx="1059.6" cy="491.6" r="2.45" fill="#97a928"/><circle cx="1060.2" cy="500.0" r="2.80" fill="#97a928"/><circle cx="1125.6" cy="491.6" r="2.45" fill="#97a928"/><circle cx="1176.0" cy="493.6" r="2.45" fill="#97a928"/><circle cx="863.4" cy="541.0" r="2.45" fill="#97a928"/><circle cx="874.6" cy="545.0" r="2.45" fill="#97a928"/><circle cx="1098.2" cy="541.0" r="2.45" fill="#97a928"/><circle cx="940.4" cy="683.6" r="2.45" fill="#97a928"/><circle cx="966.0" cy="690.6" r="2.45" fill="#97a928"/><circle cx="982.0" cy="692.0" r="2.45" fill="#97a928"/><circle cx="1000.0" cy="693.0" r="2.45" fill="#97a928"/><circle cx="1010.4" cy="694.0" r="2.45" fill="#97a928"/><circle cx="1024.6" cy="695.0" r="2.80" fill="#97a928"/><circle cx="1042.6" cy="696.0" r="2.45" fill="#97a928"/><circle cx="1090.0" cy="713.0" r="2.45" fill="#97a928"/><circle cx="1096.4" cy="712.0" r="2.45" fill="#97a928"/><circle cx="1106.4" cy="714.0" r="2.45" fill="#97a928"/><circle cx="1136.0" cy="717.0" r="2.45" fill="#97a928"/><circle cx="1141.0" cy="718.0" r="2.45" fill="#97a928"/><circle cx="1162.0" cy="719.0" r="2.45" fill="#97a928"/><circle cx="874.6" cy="547.0" r="2.45" fill="#97a928"/><circle cx="1077.0" cy="555.0" r="2.45" fill="#97a928"/><circle cx="1089.0" cy="559.4" r="2.45" fill="#97a928"/><circle cx="1105.4" cy="550.4" r="2.80" fill="#97a928"/><circle cx="1125.0" cy="548.4" r="2.80" fill="#97a928"/><circle cx="1127.4" cy="556.0" r="2.45" fill="#97a928"/><circle cx="1136.6" cy="550.4" r="2.80" fill="#97a928"/><circle cx="1158.0" cy="563.4" r="2.45" fill="#97a928"/><circle cx="865.6" cy="591.6" r="2.45" fill="#97a928"/><circle cx="1121.4" cy="584.0" r="2.80" fill="#97a928"/><circle cx="1129.6" cy="592.6" r="2.45" fill="#97a928"/><circle cx="970.0" cy="599.0" r="2.80" fill="#97a928"/><circle cx="943.0" cy="608.0" r="2.80" fill="#97a928"/><circle cx="1152.0" cy="602.6" r="2.45" fill="#97a928"/><circle cx="873.6" cy="615.0" r="2.45" fill="#97a928"/><circle cx="938.4" cy="615.4" r="2.80" fill="#97a928"/><circle cx="959.6" cy="615.0" r="2.45" fill="#97a928"/><circle cx="970.6" cy="611.0" r="2.45" fill="#97a928"/><circle cx="1058.6" cy="619.0" r="2.45" fill="#97a928"/><circle cx="1084.2" cy="620.0" r="2.45" fill="#97a928"/><circle cx="1157.0" cy="624.0" r="2.45" fill="#97a928"/><circle cx="1126.4" cy="631.0" r="2.45" fill="#97a928"/><circle cx="924.2" cy="637.2" r="2.45" fill="#97a928"/><circle cx="1041.4" cy="637.2" r="4.00" fill="#97a928"/><circle cx="1055.6" cy="632.0" r="2.45" fill="#97a928"/><circle cx="1061.0" cy="635.2" r="2.45" fill="#97a928"/><circle cx="994.0" cy="643.4" r="2.45" fill="#97a928"/><circle cx="936.4" cy="649.4" r="2.45" fill="#97a928"/><circle cx="1029.4" cy="654.4" r="2.45" fill="#97a928"/><circle cx="1175.2" cy="640.2" r="2.45" fill="#97a928"/><circle cx="931.4" cy="669.6" r="2.45" fill="#97a928"/><circle cx="954.6" cy="721.2" r="2.45" fill="#97a928"/><circle cx="1140.8" cy="756.4" r="2.45" fill="#97a928"/><circle cx="888.0" cy="770.8" r="2.45" fill="#97a928"/><circle cx="888.0" cy="779.8" r="2.45" fill="#97a928"/><circle cx="969.8" cy="776.8" r="2.45" fill="#97a928"/><circle cx="1085.6" cy="778.6" r="2.80" fill="#97a928"/><circle cx="1057.2" cy="785.6" r="2.80" fill="#97a928"/><circle cx="938.4" cy="783.8" r="2.45" fill="#97a928"/><circle cx="863.4" cy="787.0" r="2.45" fill="#97a928"/><circle cx="873.6" cy="784.8" r="2.45" fill="#97a928"/><circle cx="878.0" cy="786.8" r="2.45" fill="#97a928"/><circle cx="882.0" cy="786.8" r="2.45" fill="#97a928"/><circle cx="894.0" cy="791.0" r="2.45" fill="#97a928"/><circle cx="902.0" cy="793.0" r="2.45" fill="#97a928"/><circle cx="919.0" cy="793.0" r="2.45" fill="#97a928"/><circle cx="953.4" cy="793.0" r="2.45" fill="#97a928"/><circle cx="880.6" cy="797.0" r="2.45" fill="#97a928"/><circle cx="885.0" cy="796.0" r="2.45" fill="#97a928"/><circle cx="1046.6" cy="797.0" r="2.45" fill="#97a928"/><circle cx="1154.0" cy="795.0" r="2.45" fill="#97a928"/><circle cx="1180.0" cy="789.0" r="2.45" fill="#97a928"/><circle cx="1180.0" cy="803.0" r="2.45" fill="#97a928"/><circle cx="904.0" cy="809.0" r="2.45" fill="#97a928"/><circle cx="1065.8" cy="809.0" r="2.45" fill="#97a928"/><circle cx="1081.0" cy="809.0" r="2.45" fill="#97a928"/><circle cx="1086.2" cy="809.0" r="2.45" fill="#97a928"/><circle cx="870.6" cy="803.0" r="2.45" fill="#97a928"/><circle cx="875.0" cy="809.0" r="2.45" fill="#97a928"/><circle cx="882.0" cy="814.0" r="2.45" fill="#97a928"/><circle cx="967.0" cy="861.0" r="4.80" fill="#8fa64a"/><circle cx="977.0" cy="860.0" r="2.45" fill="#97a928"/><circle cx="981.0" cy="869.0" r="2.45" fill="#97a928"/><circle cx="987.0" cy="868.0" r="2.45" fill="#97a928"/><circle cx="1041.0" cy="900.0" r="2.80" fill="#97a928"/><circle cx="998.0" cy="835.4" r="2.45" fill="#97a928"/><circle cx="1035.4" cy="828.6" r="2.45" fill="#97a928"/><circle cx="1038.6" cy="834.4" r="2.45" fill="#97a928"/><circle cx="1107.4" cy="845.4" r="3.60" fill="#97a928"/><circle cx="1122.6" cy="835.4" r="2.45" fill="#97a928"/><circle cx="1149.0" cy="832.4" r="2.45" fill="#97a928"/><circle cx="1154.0" cy="832.4" r="2.45" fill="#97a928"/><circle cx="1017.4" cy="878.0" r="2.45" fill="#97a928"/><circle cx="1156.0" cy="875.0" r="2.45" fill="#97a928"/><circle cx="1146.0" cy="885.0" r="2.45" fill="#97a928"/><circle cx="1142.6" cy="891.0" r="2.45" fill="#97a928"/><circle cx="1138.6" cy="906.4" r="2.45" fill="#97a928"/><circle cx="1119.6" cy="931.4" r="2.45" fill="#97a928"/><circle cx="1147.6" cy="944.4" r="2.45" fill="#97a928"/><circle cx="1166.0" cy="959.0" r="2.45" fill="#97a928"/><circle cx="1175.4" cy="955.0" r="2.45" fill="#97a928"/><circle cx="1207.0" cy="24.0" r="2.45" fill="#97a928"/><circle cx="1230.0" cy="24.0" r="2.45" fill="#97a928"/><circle cx="1334.0" cy="24.0" r="2.45" fill="#97a928"/><circle cx="1353.0" cy="23.0" r="2.45" fill="#97a928"/><circle cx="1408.0" cy="24.0" r="2.45" fill="#97a928"/><circle cx="1417.0" cy="24.0" r="2.45" fill="#97a928"/><circle cx="1433.0" cy="24.0" r="2.45" fill="#97a928"/><circle cx="1260.0" cy="34.0" r="2.45" fill="#97a928"/><circle cx="1321.0" cy="36.0" r="2.45" fill="#97a928"/><circle cx="1306.0" cy="38.0" r="2.45" fill="#97a928"/><circle cx="1228.0" cy="38.0" r="2.45" fill="#97a928"/><circle cx="1241.0" cy="38.0" r="2.45" fill="#97a928"/><circle cx="1416.0" cy="38.0" r="2.45" fill="#97a928"/><circle cx="1437.0" cy="39.0" r="2.45" fill="#97a928"/><circle cx="1181.0" cy="43.0" r="2.45" fill="#97a928"/><circle cx="1275.0" cy="43.0" r="2.45" fill="#97a928"/><circle cx="1328.0" cy="43.0" r="2.45" fill="#97a928"/><circle cx="1343.0" cy="43.0" r="2.45" fill="#97a928"/><circle cx="1359.0" cy="43.0" r="2.45" fill="#97a928"/><circle cx="1181.0" cy="106.0" r="2.45" fill="#97a928"/><circle cx="1207.0" cy="103.0" r="2.45" fill="#97a928"/><circle cx="1218.0" cy="106.0" r="2.45" fill="#97a928"/><circle cx="1226.0" cy="108.0" r="2.45" fill="#97a928"/><circle cx="1275.0" cy="106.0" r="2.45" fill="#97a928"/><circle cx="1308.4" cy="108.0" r="2.45" fill="#97a928"/><circle cx="1338.0" cy="108.0" r="2.45" fill="#97a928"/><circle cx="1345.0" cy="108.0" r="2.45" fill="#97a928"/><circle cx="1445.0" cy="108.0" r="2.45" fill="#97a928"/><circle cx="1454.0" cy="108.0" r="2.45" fill="#97a928"/><circle cx="1443.0" cy="138.0" r="2.45" fill="#97a928"/><circle cx="1214.6" cy="148.4" r="2.45" fill="#97a928"/><circle cx="1359.0" cy="147.6" r="2.45" fill="#97a928"/><circle cx="1208.6" cy="166.6" r="2.45" fill="#97a928"/><circle cx="1242.0" cy="174.6" r="2.45" fill="#97a928"/><circle cx="1183.0" cy="183.6" r="2.45" fill="#97a928"/><circle cx="1207.0" cy="186.0" r="2.45" fill="#97a928"/><circle cx="1205.0" cy="191.6" r="2.45" fill="#97a928"/><circle cx="1211.0" cy="192.0" r="2.45" fill="#97a928"/><circle cx="1218.0" cy="188.0" r="2.45" fill="#97a928"/><circle cx="1238.0" cy="188.0" r="2.45" fill="#97a928"/><circle cx="1239.0" cy="192.0" r="2.45" fill="#97a928"/><circle cx="1244.0" cy="187.0" r="2.45" fill="#97a928"/><circle cx="1259.0" cy="191.6" r="2.45" fill="#97a928"/><circle cx="1276.4" cy="188.0" r="2.45" fill="#97a928"/><circle cx="1318.0" cy="188.0" r="2.45" fill="#97a928"/><circle cx="1326.0" cy="187.0" r="2.45" fill="#97a928"/><circle cx="1356.0" cy="183.6" r="2.45" fill="#97a928"/><circle cx="1420.0" cy="191.6" r="2.45" fill="#97a928"/><circle cx="1428.0" cy="188.0" r="2.45" fill="#97a928"/><circle cx="1441.0" cy="179.0" r="2.45" fill="#97a928"/><circle cx="1444.0" cy="188.0" r="2.45" fill="#97a928"/><circle cx="1452.0" cy="187.0" r="2.45" fill="#97a928"/><circle cx="1454.0" cy="191.6" r="2.45" fill="#97a928"/><circle cx="1456.0" cy="188.0" r="2.45" fill="#97a928"/><circle cx="1470.0" cy="188.0" r="2.45" fill="#97a928"/><circle cx="1476.6" cy="192.0" r="2.45" fill="#97a928"/><circle cx="1360.0" cy="207.0" r="2.45" fill="#97a928"/><circle cx="1310.6" cy="213.0" r="2.45" fill="#97a928"/><circle cx="1318.6" cy="213.0" r="2.45" fill="#97a928"/><circle cx="1403.0" cy="213.0" r="2.45" fill="#97a928"/><circle cx="1449.0" cy="213.0" r="2.45" fill="#97a928"/><circle cx="1465.0" cy="213.0" r="2.45" fill="#97a928"/><circle cx="1181.0" cy="231.6" r="2.45" fill="#97a928"/><circle cx="1217.4" cy="231.6" r="2.45" fill="#97a928"/><circle cx="1224.0" cy="231.0" r="2.45" fill="#97a928"/><circle cx="1245.0" cy="230.4" r="2.45" fill="#97a928"/><circle cx="1342.0" cy="231.6" r="2.45" fill="#97a928"/><circle cx="1350.0" cy="231.0" r="2.45" fill="#97a928"/><circle cx="1410.0" cy="231.0" r="2.45" fill="#97a928"/><circle cx="1427.0" cy="230.0" r="2.45" fill="#97a928"/><circle cx="1464.6" cy="231.6" r="2.45" fill="#97a928"/><circle cx="1214.6" cy="241.6" r="2.45" fill="#97a928"/><circle cx="1275.4" cy="236.6" r="2.45" fill="#97a928"/><circle cx="1360.0" cy="239.6" r="2.45" fill="#97a928"/><circle cx="1329.0" cy="245.0" r="2.45" fill="#97a928"/><circle cx="1343.0" cy="244.4" r="2.45" fill="#97a928"/><circle cx="1322.0" cy="265.6" r="2.45" fill="#97a928"/><circle cx="1341.0" cy="265.6" r="2.45" fill="#97a928"/><circle cx="1349.0" cy="270.4" r="2.45" fill="#97a928"/><circle cx="1482.0" cy="182.0" r="1.60" fill="#97a928"/><circle cx="1482.0" cy="188.0" r="1.60" fill="#97a928"/><circle cx="1482.0" cy="192.0" r="1.60" fill="#97a928"/><circle cx="1482.0" cy="213.0" r="1.60" fill="#97a928"/><circle cx="1482.0" cy="235.0" r="1.60" fill="#97a928"/><circle cx="1482.0" cy="172.0" r="1.60" fill="#97a928"/><circle cx="1482.0" cy="266.0" r="1.60" fill="#97a928"/><circle cx="1353.0" cy="19.0" r="4.40" fill="#86a04e"/><circle cx="1351.0" cy="25.0" r="3.60" fill="#86a04e"/><circle cx="1211.6" cy="293.0" r="2.45" fill="#97a928"/><circle cx="1239.0" cy="293.0" r="2.45" fill="#97a928"/><circle cx="1280.0" cy="284.0" r="2.45" fill="#97a928"/><circle cx="1284.6" cy="285.4" r="2.45" fill="#97a928"/><circle cx="1299.6" cy="293.0" r="3.20" fill="#97a928"/><circle cx="1312.6" cy="300.0" r="2.45" fill="#97a928"/><circle cx="1319.0" cy="303.4" r="2.45" fill="#97a928"/><circle cx="1315.8" cy="314.4" r="2.45" fill="#97a928"/><circle cx="1315.0" cy="319.4" r="2.45" fill="#97a928"/><circle cx="1318.4" cy="323.4" r="2.45" fill="#97a928"/><circle cx="1304.4" cy="319.4" r="2.45" fill="#97a928"/><circle cx="1340.0" cy="312.4" r="2.45" fill="#97a928"/><circle cx="1395.6" cy="291.0" r="2.45" fill="#97a928"/><circle cx="1402.6" cy="303.4" r="2.45" fill="#97a928"/><circle cx="1400.0" cy="319.4" r="2.45" fill="#97a928"/><circle cx="1466.6" cy="282.0" r="2.45" fill="#97a928"/><circle cx="1448.0" cy="302.0" r="2.45" fill="#97a928"/><circle cx="1444.4" cy="320.4" r="2.45" fill="#97a928"/><circle cx="1455.4" cy="320.4" r="2.45" fill="#97a928"/><circle cx="1460.6" cy="319.4" r="2.45" fill="#97a928"/><circle cx="1226.6" cy="319.4" r="2.45" fill="#97a928"/><circle cx="1244.0" cy="320.0" r="2.80" fill="#97a928"/><circle cx="1343.0" cy="339.4" r="2.45" fill="#97a928"/><circle cx="1342.0" cy="344.0" r="2.45" fill="#97a928"/><circle cx="1322.0" cy="345.6" r="2.45" fill="#97a928"/><circle cx="1307.6" cy="347.0" r="2.45" fill="#97a928"/><circle cx="1336.2" cy="351.4" r="2.45" fill="#97a928"/><circle cx="1354.2" cy="350.6" r="2.45" fill="#97a928"/><circle cx="1354.2" cy="355.4" r="2.45" fill="#97a928"/><circle cx="1351.6" cy="361.0" r="3.20" fill="#97a928"/><circle cx="1398.6" cy="343.6" r="2.45" fill="#97a928"/><circle cx="1432.2" cy="343.6" r="2.45" fill="#97a928"/><circle cx="1393.0" cy="354.0" r="2.80" fill="#97a928"/><circle cx="1404.6" cy="359.0" r="2.45" fill="#97a928"/><circle cx="1452.4" cy="362.0" r="2.45" fill="#97a928"/><circle cx="1471.6" cy="369.0" r="2.45" fill="#97a928"/><circle cx="1438.4" cy="372.0" r="2.45" fill="#97a928"/><circle cx="1233.0" cy="345.6" r="2.45" fill="#97a928"/><circle cx="1279.0" cy="361.0" r="3.20" fill="#97a928"/><circle cx="1188.4" cy="388.0" r="2.45" fill="#97a928"/><circle cx="1298.6" cy="400.4" r="2.45" fill="#97a928"/><circle cx="1411.0" cy="395.4" r="2.45" fill="#97a928"/><circle cx="1408.0" cy="400.4" r="2.45" fill="#97a928"/><circle cx="1431.0" cy="390.4" r="2.45" fill="#97a928"/><circle cx="1457.4" cy="405.4" r="2.45" fill="#97a928"/><circle cx="1181.0" cy="420.6" r="2.45" fill="#97a928"/><circle cx="1208.6" cy="417.4" r="2.45" fill="#97a928"/><circle cx="1213.6" cy="419.6" r="2.45" fill="#97a928"/><circle cx="1227.6" cy="424.6" r="2.45" fill="#97a928"/><circle cx="1234.0" cy="428.6" r="2.45" fill="#97a928"/><circle cx="1346.6" cy="422.0" r="3.20" fill="#97a928"/><circle cx="1398.8" cy="424.6" r="2.45" fill="#97a928"/><circle cx="1470.6" cy="424.6" r="2.45" fill="#97a928"/><circle cx="1473.6" cy="420.6" r="2.45" fill="#97a928"/><circle cx="1344.2" cy="440.6" r="2.45" fill="#97a928"/><circle cx="1206.0" cy="444.0" r="2.80" fill="#97a928"/><circle cx="1223.6" cy="454.0" r="2.45" fill="#97a928"/><circle cx="1238.0" cy="460.0" r="2.45" fill="#97a928"/><circle cx="1217.6" cy="465.6" r="2.80" fill="#97a928"/><circle cx="1322.0" cy="453.0" r="2.45" fill="#97a928"/><circle cx="1336.4" cy="456.0" r="2.45" fill="#97a928"/><circle cx="1341.0" cy="452.6" r="2.45" fill="#97a928"/><circle cx="1357.4" cy="454.0" r="2.45" fill="#97a928"/><circle cx="1392.6" cy="453.0" r="2.45" fill="#97a928"/><circle cx="1405.0" cy="457.4" r="2.80" fill="#97a928"/><circle cx="1443.4" cy="451.0" r="2.45" fill="#97a928"/><circle cx="1423.0" cy="497.4" r="2.45" fill="#97a928"/><circle cx="1470.6" cy="491.4" r="2.45" fill="#97a928"/><circle cx="1229.6" cy="504.6" r="2.80" fill="#97a928"/><circle cx="1245.0" cy="505.6" r="2.45" fill="#97a928"/><circle cx="1189.0" cy="510.6" r="2.45" fill="#97a928"/><circle cx="1190.4" cy="514.6" r="2.45" fill="#97a928"/><circle cx="1191.4" cy="522.6" r="2.45" fill="#97a928"/><circle cx="1295.0" cy="537.4" r="2.45" fill="#97a928"/><circle cx="1312.6" cy="541.0" r="2.45" fill="#97a928"/><circle cx="1428.4" cy="541.0" r="2.45" fill="#97a928"/><circle cx="1440.6" cy="541.0" r="2.45" fill="#97a928"/><circle cx="1445.0" cy="538.0" r="2.45" fill="#97a928"/><circle cx="1452.6" cy="541.0" r="2.45" fill="#97a928"/><circle cx="1460.6" cy="538.0" r="2.45" fill="#97a928"/><circle cx="1326.0" cy="544.0" r="2.45" fill="#97a928"/><circle cx="1342.0" cy="545.0" r="2.45" fill="#97a928"/><circle cx="1412.0" cy="545.0" r="2.45" fill="#97a928"/><circle cx="1464.6" cy="545.0" r="2.45" fill="#97a928"/><circle cx="1482.0" cy="293.0" r="1.20" fill="#97a928"/><circle cx="1482.0" cy="345.0" r="1.20" fill="#97a928"/><circle cx="1482.0" cy="386.0" r="1.20" fill="#97a928"/><circle cx="1482.0" cy="437.0" r="1.20" fill="#97a928"/><circle cx="1482.0" cy="444.0" r="1.20" fill="#97a928"/><circle cx="1482.0" cy="469.0" r="1.20" fill="#97a928"/><circle cx="1295.0" cy="549.0" r="2.45" fill="#97a928"/><circle cx="1326.0" cy="547.0" r="2.45" fill="#97a928"/><circle cx="1342.0" cy="547.0" r="2.45" fill="#97a928"/><circle cx="1412.0" cy="547.0" r="2.45" fill="#97a928"/><circle cx="1464.6" cy="547.0" r="2.45" fill="#97a928"/><circle cx="1281.0" cy="556.0" r="2.45" fill="#97a928"/><circle cx="1285.6" cy="557.4" r="2.45" fill="#97a928"/><circle cx="1279.4" cy="561.4" r="2.45" fill="#97a928"/><circle cx="1352.4" cy="563.4" r="2.45" fill="#97a928"/><circle cx="1422.0" cy="567.4" r="2.45" fill="#97a928"/><circle cx="1211.6" cy="581.6" r="2.45" fill="#97a928"/><circle cx="1211.6" cy="591.6" r="2.45" fill="#97a928"/><circle cx="1314.4" cy="581.6" r="2.45" fill="#97a928"/><circle cx="1405.0" cy="583.6" r="2.45" fill="#97a928"/><circle cx="1447.4" cy="583.6" r="2.45" fill="#97a928"/><circle cx="1297.6" cy="601.6" r="2.45" fill="#97a928"/><circle cx="1443.4" cy="606.0" r="2.45" fill="#97a928"/><circle cx="1232.0" cy="615.0" r="2.45" fill="#97a928"/><circle cx="1334.0" cy="613.0" r="2.45" fill="#97a928"/><circle cx="1276.4" cy="622.0" r="2.45" fill="#97a928"/><circle cx="1307.8" cy="621.0" r="2.45" fill="#97a928"/><circle cx="1398.4" cy="634.0" r="2.45" fill="#97a928"/><circle cx="1469.4" cy="626.0" r="2.45" fill="#97a928"/><circle cx="1469.4" cy="633.2" r="2.45" fill="#97a928"/><circle cx="1186.4" cy="648.4" r="2.45" fill="#97a928"/><circle cx="1476.6" cy="668.6" r="2.45" fill="#97a928"/><circle cx="1476.6" cy="712.0" r="2.45" fill="#97a928"/><circle cx="1220.6" cy="723.4" r="2.45" fill="#97a928"/><circle cx="1226.0" cy="724.4" r="2.45" fill="#97a928"/><circle cx="1243.0" cy="725.4" r="2.45" fill="#97a928"/><circle cx="1277.4" cy="726.4" r="2.45" fill="#97a928"/><circle cx="1297.6" cy="730.4" r="2.45" fill="#97a928"/><circle cx="1308.6" cy="731.4" r="2.45" fill="#97a928"/><circle cx="1338.6" cy="737.0" r="2.45" fill="#97a928"/><circle cx="1355.4" cy="736.0" r="2.45" fill="#97a928"/><circle cx="1358.4" cy="741.6" r="2.45" fill="#97a928"/><circle cx="1445.4" cy="748.6" r="2.45" fill="#97a928"/><circle cx="1181.0" cy="767.6" r="2.45" fill="#97a928"/><circle cx="1317.0" cy="767.6" r="2.45" fill="#97a928"/><circle cx="1332.0" cy="768.6" r="2.45" fill="#97a928"/><circle cx="1309.0" cy="774.6" r="2.45" fill="#97a928"/><circle cx="1435.4" cy="783.8" r="2.45" fill="#97a928"/><circle cx="1187.4" cy="787.0" r="2.45" fill="#97a928"/><circle cx="1181.0" cy="789.0" r="2.45" fill="#97a928"/><circle cx="1222.0" cy="792.0" r="3.20" fill="#97a928"/><circle cx="1241.0" cy="795.0" r="2.45" fill="#97a928"/><circle cx="1183.0" cy="797.0" r="2.45" fill="#97a928"/><circle cx="1188.0" cy="797.0" r="2.45" fill="#97a928"/><circle cx="1182.0" cy="803.0" r="2.45" fill="#97a928"/><circle cx="1233.0" cy="804.0" r="2.45" fill="#97a928"/><circle cx="1239.0" cy="805.4" r="2.45" fill="#97a928"/><circle cx="1329.0" cy="793.0" r="2.45" fill="#97a928"/><circle cx="1360.0" cy="793.0" r="2.45" fill="#97a928"/><circle cx="1363.4" cy="790.0" r="2.45" fill="#97a928"/><circle cx="1405.0" cy="809.0" r="2.45" fill="#97a928"/><circle cx="1475.6" cy="809.0" r="2.45" fill="#97a928"/><circle cx="1482.0" cy="769.0" r="1.20" fill="#97a928"/><circle cx="1231.0" cy="1001.4" r="2.45" fill="#97a928"/><circle cx="1289.6" cy="1002.4" r="2.45" fill="#97a928"/><circle cx="1335.0" cy="1014.4" r="2.45" fill="#97a928"/><circle cx="1259.2" cy="985.0" r="2.45" fill="#97a928"/><circle cx="1185.4" cy="821.4" r="2.45" fill="#97a928"/><circle cx="1342.0" cy="822.4" r="2.45" fill="#97a928"/><circle cx="1418.0" cy="829.0" r="3.20" fill="#8fa64a"/><circle cx="1420.6" cy="834.4" r="2.45" fill="#97a928"/><circle cx="1466.4" cy="823.4" r="2.45" fill="#97a928"/><circle cx="1398.8" cy="834.4" r="2.45" fill="#97a928"/><circle cx="1455.4" cy="835.4" r="2.45" fill="#97a928"/><circle cx="1339.6" cy="841.4" r="2.80" fill="#97a928"/><circle cx="1455.4" cy="844.6" r="2.45" fill="#97a928"/><circle cx="1468.4" cy="844.6" r="2.45" fill="#97a928"/><circle cx="1212.6" cy="851.6" r="2.45" fill="#97a928"/><circle cx="1231.8" cy="854.6" r="2.45" fill="#97a928"/><circle cx="1221.6" cy="860.6" r="2.45" fill="#97a928"/><circle cx="1398.8" cy="849.6" r="2.45" fill="#97a928"/><circle cx="1406.8" cy="849.6" r="2.45" fill="#97a928"/><circle cx="1457.4" cy="852.6" r="2.45" fill="#97a928"/><circle cx="1442.2" cy="861.6" r="2.45" fill="#97a928"/><circle cx="1234.0" cy="872.0" r="2.45" fill="#97a928"/><circle cx="1240.0" cy="870.0" r="2.45" fill="#97a928"/><circle cx="1336.6" cy="866.0" r="3.20" fill="#97a928"/><circle cx="1349.4" cy="868.8" r="2.45" fill="#97a928"/><circle cx="1396.6" cy="864.8" r="2.45" fill="#97a928"/><circle cx="1366.4" cy="877.0" r="2.45" fill="#97a928"/><circle cx="1358.2" cy="899.2" r="2.45" fill="#97a928"/><circle cx="1212.6" cy="908.4" r="2.45" fill="#97a928"/><circle cx="1274.4" cy="906.4" r="2.45" fill="#97a928"/><circle cx="1296.6" cy="906.4" r="2.45" fill="#97a928"/><circle cx="1475.6" cy="918.4" r="2.45" fill="#97a928"/><circle cx="1340.0" cy="928.6" r="2.45" fill="#97a928"/><circle cx="1476.6" cy="934.6" r="2.45" fill="#97a928"/><circle cx="1215.6" cy="937.6" r="2.45" fill="#97a928"/><circle cx="1215.6" cy="945.6" r="2.45" fill="#97a928"/><circle cx="1226.8" cy="945.6" r="2.45" fill="#97a928"/><circle cx="1298.6" cy="940.6" r="2.45" fill="#97a928"/><circle cx="1315.8" cy="939.6" r="2.45" fill="#97a928"/><circle cx="1295.0" cy="945.6" r="2.80" fill="#97a928"/><circle cx="1337.0" cy="948.6" r="2.45" fill="#97a928"/><circle cx="1277.4" cy="957.0" r="2.45" fill="#97a928"/><circle cx="1340.0" cy="957.0" r="2.45" fill="#97a928"/><circle cx="1330.0" cy="959.0" r="2.45" fill="#97a928"/><circle cx="1402.0" cy="950.6" r="3.20" fill="#97a928"/><circle cx="1467.4" cy="951.6" r="2.45" fill="#97a928"/><circle cx="1438.4" cy="963.0" r="2.45" fill="#97a928"/><circle cx="1441.2" cy="958.0" r="2.45" fill="#97a928"/><circle cx="1216.6" cy="960.0" r="2.45" fill="#97a928"/><circle cx="1299.6" cy="973.0" r="2.45" fill="#97a928"/><circle cx="1430.0" cy="977.0" r="2.45" fill="#97a928"/><circle cx="1435.0" cy="979.0" r="2.45" fill="#97a928"/><circle cx="1480.4" cy="978.0" r="2.45" fill="#97a928"/><circle cx="1316.8" cy="984.0" r="2.45" fill="#97a928"/><circle cx="1356.4" cy="984.0" r="2.45" fill="#97a928"/><circle cx="1399.8" cy="984.0" r="2.45" fill="#97a928"/><circle cx="1390.6" cy="987.0" r="2.45" fill="#97a928"/><circle cx="1406.6" cy="1003.4" r="2.45" fill="#97a928"/><circle cx="1420.0" cy="1010.4" r="2.45" fill="#97a928"/><circle cx="1338.0" cy="1059.0" r="2.45" fill="#97a928"/><circle cx="1355.4" cy="1059.0" r="2.45" fill="#97a928"/><circle cx="1400.4" cy="1058.0" r="2.80" fill="#97a928"/><circle cx="1458.4" cy="1058.0" r="2.45" fill="#97a928"/><circle cx="1482.0" cy="832.0" r="1.20" fill="#97a928"/><circle cx="1482.0" cy="879.0" r="1.20" fill="#97a928"/><circle cx="1482.0" cy="919.0" r="1.20" fill="#97a928"/><circle cx="1482.0" cy="938.0" r="1.20" fill="#97a928"/><circle cx="1482.0" cy="1002.0" r="1.20" fill="#97a928"/><circle cx="1482.0" cy="1073.0" r="1.20" fill="#97a928"/><circle cx="1426.0" cy="1106.6" r="2.45" fill="#97a928"/><circle cx="1431.0" cy="1130.0" r="2.45" fill="#97a928"/><circle cx="1438.4" cy="1131.0" r="2.45" fill="#97a928"/><circle cx="1446.0" cy="1142.4" r="2.45" fill="#97a928"/><circle cx="1481.0" cy="1149.0" r="2.80" fill="#97a928"/><circle cx="1481.0" cy="1144.0" r="1.60" fill="#97a928"/><circle cx="1481.0" cy="1158.0" r="2.80" fill="#97a928"/><circle cx="1357.0" cy="1080.0" r="2.45" fill="#97a928"/><circle cx="1385.0" cy="1086.0" r="2.45" fill="#97a928"/><circle cx="417.0" cy="16.0" r="15.00" fill="#e12f00"/><circle cx="417.0" cy="31.0" r="15.00" fill="#073c45"/><circle cx="495.0" cy="17.6" r="15.00" fill="#e12f00"/><circle cx="417.0" cy="187.0" r="15.60" fill="#e12f00"/><circle cx="497.0" cy="17.6" r="2.35" fill="#97a928"/><circle cx="419.4" cy="191.0" r="2.35" fill="#97a928"/><circle cx="422.0" cy="32.0" r="2.35" fill="#97a928"/><circle cx="424.0" cy="37.0" r="2.35" fill="#97a928"/><circle cx="427.0" cy="35.0" r="2.35" fill="#97a928"/><circle cx="423.0" cy="20.0" r="2.35" fill="#97a928"/><circle cx="428.0" cy="20.0" r="2.35" fill="#97a928"/><circle cx="417.4" cy="371.0" r="15.60" fill="#073c45"/><circle cx="495.4" cy="490.0" r="15.60" fill="#e12f00"/><circle cx="495.4" cy="499.0" r="15.60" fill="#073c45"/><circle cx="419.0" cy="371.0" r="2.35" fill="#97a928"/><circle cx="1107.0" cy="15.6" r="8.80" fill="#3b82a8"/><circle cx="1107.0" cy="18.0" r="7.60" fill="#c2a114"/><circle cx="1107.0" cy="32.0" r="8.80" fill="#3b82a8"/><circle cx="1107.0" cy="33.6" r="8.00" fill="#d9a000"/><circle cx="1133.0" cy="17.0" r="4.80" fill="#86a04e"/><circle cx="1134.0" cy="24.0" r="4.40" fill="#86a04e"/><circle cx="1133.0" cy="38.0" r="4.40" fill="#86a04e"/><circle cx="1107.0" cy="20.0" r="2.35" fill="#97a928"/><circle cx="1109.0" cy="32.0" r="2.35" fill="#97a928"/><circle cx="1109.0" cy="36.0" r="2.35" fill="#97a928"/><circle cx="1107.4" cy="465.6" r="7.00" fill="#6e9a5c"/><circle cx="1189.0" cy="17.0" r="15.00" fill="#e12f00"/><circle cx="1378.0" cy="228.0" r="12.40" fill="#e27a00"/><circle cx="1384.0" cy="225.0" r="12.40" fill="#2e7db0"/><circle cx="1377.4" cy="187.0" r="12.40" fill="#e39c00"/><circle cx="1435.0" cy="188.0" r="6.40" fill="#b5a51c"/><circle cx="1365.0" cy="18.0" r="12.00" fill="#e39c00"/><circle cx="1376.0" cy="16.0" r="12.00" fill="#e39c00"/><circle cx="1388.0" cy="18.0" r="12.00" fill="#e39c00"/><circle cx="1373.0" cy="20.0" r="10.00" fill="#e39c00"/><circle cx="1377.4" cy="31.0" r="12.40" fill="#2e7db0"/><circle cx="1365.0" cy="18.0" r="12.00" fill="#e39c00"/><circle cx="1376.0" cy="16.0" r="12.00" fill="#e39c00"/><circle cx="1388.0" cy="18.0" r="12.00" fill="#e39c00"/><circle cx="1482.0" cy="17.0" r="15.20" fill="#e33000"/><circle cx="1482.0" cy="17.0" r="14.40" fill="#0b434d"/><circle cx="1482.0" cy="33.0" r="15.00" fill="#e33a00"/><circle cx="1390.0" cy="226.4" r="4.00" fill="#97a928"/><circle cx="1482.0" cy="37.0" r="1.20" fill="#97a928"/><circle cx="1391.0" cy="18.0" r="2.35" fill="#97a928"/><circle cx="1395.0" cy="19.0" r="2.35" fill="#97a928"/><circle cx="1188.6" cy="360.0" r="16.00" fill="#073c45"/><circle cx="1188.6" cy="361.4" r="15.60" fill="#e12f00"/><circle cx="1364.0" cy="364.0" r="10.40" fill="#e39c00"/><circle cx="1368.0" cy="359.0" r="11.60" fill="#2e7db0"/><circle cx="1377.4" cy="371.0" r="12.40" fill="#2e7db0"/><circle cx="1379.0" cy="357.0" r="11.00" fill="#2e7db0"/><circle cx="1383.4" cy="362.0" r="12.80" fill="#e27000"/><circle cx="1384.0" cy="362.0" r="12.20" fill="#e39c00"/><circle cx="1389.0" cy="362.0" r="11.00" fill="#e39c00"/><circle cx="1365.4" cy="491.0" r="12.40" fill="#e39c00"/><circle cx="1365.4" cy="498.6" r="12.40" fill="#2e7db0"/><circle cx="1393.0" cy="354.0" r="2.80" fill="#97a928"/><circle cx="1354.2" cy="355.4" r="2.35" fill="#97a928"/><circle cx="1351.6" cy="361.0" r="3.20" fill="#97a928"/><circle cx="1435.4" cy="615.0" r="6.60" fill="#6e9a5c"/><circle cx="1379.4" cy="1106.6" r="12.40" fill="#236f96"/><path d="M495.0 499.0 L505.0 519.0 L517.0 535.0" fill="none" stroke="#97a928" stroke-width="4.60" stroke-linecap="round" stroke-linejoin="round"/><path d="M1189.0 17.6 L1203.0 17.6" fill="none" stroke="#97a928" stroke-width="4.80" stroke-linecap="round" stroke-linejoin="round"/><path d="M1379.0 1108.0 L1389.0 1116.0 L1399.0 1123.0 L1405.0 1123.0 L1417.0 1128.0 L1431.0 1136.0 L1445.0 1143.0 L1461.0 1146.0 L1473.0 1153.0 L1481.0 1159.0" fill="none" stroke="#97a928" stroke-width="4.80" stroke-linecap="round" stroke-linejoin="round"/><rect x="1517" y="15.50" width="70" height="18.46" fill="#e03000"/><rect x="1517" y="33.36" width="70" height="18.46" fill="#e13600"/><rect x="1517" y="51.22" width="70" height="18.46" fill="#e13c00"/><rect x="1517" y="69.08" width="70" height="18.46" fill="#e24200"/><rect x="1517" y="86.94" width="70" height="18.46" fill="#e24900"/><rect x="1517" y="104.80" width="70" height="18.46" fill="#e24f00"/><rect x="1517" y="122.66" width="70" height="18.46" fill="#e35600"/><rect x="1517" y="140.52" width="70" height="18.46" fill="#e35d00"/><rect x="1517" y="158.38" width="70" height="18.46" fill="#e36400"/><rect x="1517" y="176.23" width="70" height="18.46" fill="#e46a00"/><rect x="1517" y="194.09" width="70" height="18.46" fill="#e47100"/><rect x="1517" y="211.95" width="70" height="18.46" fill="#e47900"/><rect x="1517" y="229.81" width="70" height="18.46" fill="#e48200"/><rect x="1517" y="247.67" width="70" height="18.46" fill="#e38b00"/><rect x="1517" y="265.53" width="70" height="18.46" fill="#e39300"/><rect x="1517" y="283.39" width="70" height="18.46" fill="#e39900"/><rect x="1517" y="301.25" width="70" height="18.46" fill="#e3a000"/><rect x="1517" y="319.11" width="70" height="18.46" fill="#de9f00"/><rect x="1517" y="336.97" width="70" height="18.46" fill="#da9f01"/><rect x="1517" y="354.83" width="70" height="18.46" fill="#d59f03"/><rect x="1517" y="372.69" width="70" height="18.46" fill="#d19f04"/><rect x="1517" y="390.55" width="70" height="18.46" fill="#cc9f06"/><rect x="1517" y="408.41" width="70" height="18.46" fill="#c8a00a"/><rect x="1517" y="426.27" width="70" height="18.46" fill="#c4a10f"/><rect x="1517" y="444.12" width="70" height="18.46" fill="#bfa213"/><rect x="1517" y="461.98" width="70" height="18.46" fill="#bba217"/><rect x="1517" y="479.84" width="70" height="18.46" fill="#b5a41b"/><rect x="1517" y="497.70" width="70" height="18.46" fill="#b0a51e"/><rect x="1517" y="515.56" width="70" height="18.46" fill="#aba622"/><rect x="1517" y="533.42" width="70" height="18.46" fill="#a5a725"/><rect x="1517" y="551.28" width="70" height="18.46" fill="#a0a828"/><rect x="1517" y="569.14" width="70" height="18.46" fill="#9ba82c"/><rect x="1517" y="587.00" width="70" height="18.46" fill="#96a831"/><rect x="1517" y="604.86" width="70" height="18.46" fill="#91a63a"/><rect x="1517" y="622.72" width="70" height="18.46" fill="#8da442"/><rect x="1517" y="640.58" width="70" height="18.46" fill="#88a24a"/><rect x="1517" y="658.44" width="70" height="18.46" fill="#81a056"/><rect x="1517" y="676.30" width="70" height="18.46" fill="#799e62"/><rect x="1517" y="694.16" width="70" height="18.46" fill="#729c6d"/><rect x="1517" y="712.02" width="70" height="18.46" fill="#6a9978"/><rect x="1517" y="729.88" width="70" height="18.46" fill="#629680"/><rect x="1517" y="747.73" width="70" height="18.46" fill="#5a9388"/><rect x="1517" y="765.59" width="70" height="18.46" fill="#529090"/><rect x="1517" y="783.45" width="70" height="18.46" fill="#4a8d9b"/><rect x="1517" y="801.31" width="70" height="18.46" fill="#438aa7"/><rect x="1517" y="819.17" width="70" height="18.46" fill="#3b86b2"/><rect x="1517" y="837.03" width="70" height="18.46" fill="#3483bb"/><rect x="1517" y="854.89" width="70" height="18.46" fill="#327fb4"/><rect x="1517" y="872.75" width="70" height="18.46" fill="#2f7bad"/><rect x="1517" y="890.61" width="70" height="18.46" fill="#2c77a6"/><rect x="1517" y="908.47" width="70" height="18.46" fill="#29739e"/><rect x="1517" y="926.33" width="70" height="18.46" fill="#266e96"/><rect x="1517" y="944.19" width="70" height="18.46" fill="#23698d"/><rect x="1517" y="962.05" width="70" height="18.46" fill="#216485"/><rect x="1517" y="979.91" width="70" height="18.46" fill="#1d607b"/><rect x="1517" y="997.77" width="70" height="18.46" fill="#195c70"/><rect x="1517" y="1015.62" width="70" height="18.46" fill="#155866"/><rect x="1517" y="1033.48" width="70" height="18.46" fill="#12535f"/><rect x="1517" y="1051.34" width="70" height="18.46" fill="#104f5a"/><rect x="1517" y="1069.20" width="70" height="18.46" fill="#0e4a55"/><rect x="1517" y="1087.06" width="70" height="18.46" fill="#0c4650"/><rect x="1517" y="1104.92" width="70" height="18.46" fill="#0b434c"/><rect x="1517" y="1122.78" width="70" height="18.46" fill="#094047"/><rect x="1517" y="1140.64" width="70" height="18.46" fill="#083d43"/><rect x="1517" y="15.5" width="70" height="1143.0" fill="none" stroke="#000" stroke-width="2"/><g stroke="#000" stroke-width="2"><path d="M1587 1096.0 h-13"/><path d="M1587 969.5 h-13"/><path d="M1587 843.0 h-13"/><path d="M1587 716.5 h-13"/><path d="M1587 590.0 h-13"/><path d="M1587 463.5 h-13"/><path d="M1587 337.0 h-13"/><path d="M1587 210.5 h-13"/><path d="M1587 84.0 h-13"/></g><g style="font-family:'Liberation Sans',Arial,Helvetica,sans-serif" fill="#000"><text transform="translate(174 35.6) scale(1 1.065)" font-size="48" text-anchor="end">0</text><text transform="translate(172 237.9) scale(1 1.065)" font-size="48" text-anchor="end">200</text><text transform="translate(172 440.2) scale(1 1.065)" font-size="48" text-anchor="end">400</text><text transform="translate(172 642.6) scale(1 1.065)" font-size="48" text-anchor="end">600</text><text transform="translate(172 844.9) scale(1 1.065)" font-size="48" text-anchor="end">800</text><text transform="translate(172 1047.2) scale(1 1.065)" font-size="48" text-anchor="end">1000</text><text transform="translate(191.5 1224.6) scale(1 1.065)" font-size="48" text-anchor="middle">0</text><text transform="translate(393.9 1224.6) scale(1 1.065)" font-size="48" text-anchor="middle">200</text><text transform="translate(596.4 1224.6) scale(1 1.065)" font-size="48" text-anchor="middle">400</text><text transform="translate(798.8 1224.6) scale(1 1.065)" font-size="48" text-anchor="middle">600</text><text transform="translate(1001.3 1224.6) scale(1 1.065)" font-size="48" text-anchor="middle">800</text><text transform="translate(1203.7 1224.6) scale(1 1.065)" font-size="48" text-anchor="middle">1000</text><text transform="translate(1406.1 1224.6) scale(1 1.065)" font-size="48" text-anchor="middle">1200</text><text transform="translate(1602 1111.9) scale(1 1.035)" font-size="42">-40</text><text transform="translate(1602 985.4) scale(1 1.035)" font-size="42">-30</text><text transform="translate(1602 858.9) scale(1 1.035)" font-size="42">-20</text><text transform="translate(1602 732.4) scale(1 1.035)" font-size="42">-10</text><text transform="translate(1602 605.9) scale(1 1.035)" font-size="42">0</text><text transform="translate(1602 479.4) scale(1 1.035)" font-size="42">10</text><text transform="translate(1602 352.9) scale(1 1.035)" font-size="42">20</text><text transform="translate(1602 226.4) scale(1 1.035)" font-size="42">30</text><text transform="translate(1602 99.9) scale(1 1.035)" font-size="42">40</text><text transform="translate(480.6 1287.9) scale(1 1.045)" font-size="53.5">Number of columns/reactions</text><text transform="translate(542.8 1353.6) scale(1 1.045)" font-size="53.5">(5532 nonzero elements)</text><text transform="translate(41.5 928) rotate(-90) scale(1 1.045)" font-size="53.5">Number of rows/metabolites</text></g></svg></body></html>
